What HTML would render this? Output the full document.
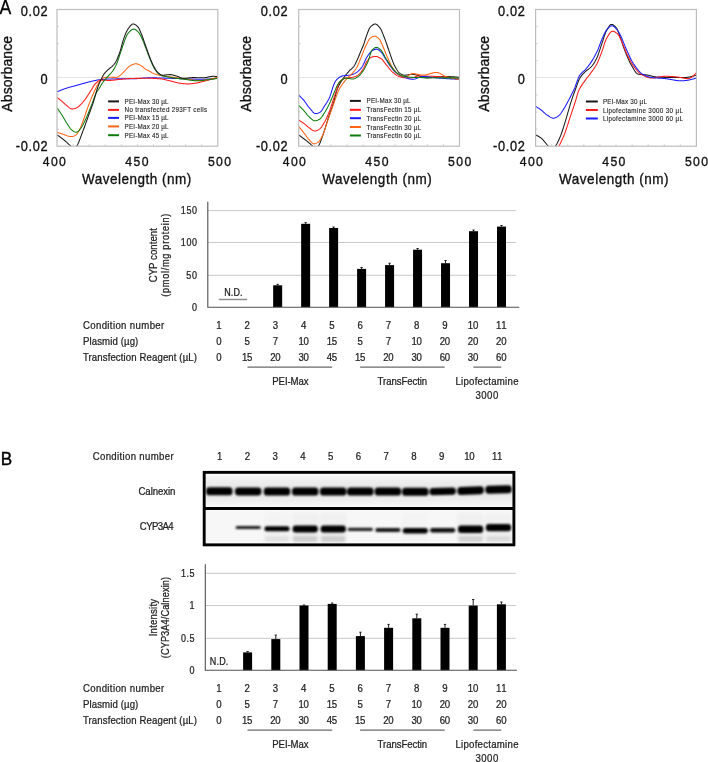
<!DOCTYPE html><html><head><meta charset="utf-8"><style>html,body{margin:0;padding:0;background:#fff;overflow:hidden}svg{display:block}text{font-family:"Liberation Sans",sans-serif}svg{will-change:transform}</style></head><body>
<svg width="708" height="762" viewBox="0 0 708 762">
<defs><filter id="blur1" x="-20%" y="-50%" width="140%" height="200%"><feGaussianBlur stdDeviation="0.9"/></filter><filter id="blur2" x="-20%" y="-100%" width="140%" height="300%"><feGaussianBlur stdDeviation="1.6"/></filter></defs>
<rect width="708" height="762" fill="#fff"/>
<text transform="translate(-0.40,13.50) scale(0.9,1)" font-size="19.6"  textLength="14.00" lengthAdjust="spacing" fill="#000" stroke="#000" stroke-width="0.3">A</text>
<clipPath id="clipA0"><rect x="57.0" y="9.5" width="160.8" height="136.7"/></clipPath>
<line x1="57.0" y1="77.5" x2="217.8" y2="77.5" stroke="#e4e4e4" stroke-width="1"/>
<line x1="73.08" y1="146.2" x2="73.08" y2="144.2" stroke="#c8c8c8" stroke-width="0.8"/>
<line x1="89.16" y1="146.2" x2="89.16" y2="144.2" stroke="#c8c8c8" stroke-width="0.8"/>
<line x1="105.24" y1="146.2" x2="105.24" y2="144.2" stroke="#c8c8c8" stroke-width="0.8"/>
<line x1="121.32" y1="146.2" x2="121.32" y2="144.2" stroke="#c8c8c8" stroke-width="0.8"/>
<line x1="137.40" y1="146.2" x2="137.40" y2="144.2" stroke="#c8c8c8" stroke-width="0.8"/>
<line x1="153.48" y1="146.2" x2="153.48" y2="144.2" stroke="#c8c8c8" stroke-width="0.8"/>
<line x1="169.56" y1="146.2" x2="169.56" y2="144.2" stroke="#c8c8c8" stroke-width="0.8"/>
<line x1="185.64" y1="146.2" x2="185.64" y2="144.2" stroke="#c8c8c8" stroke-width="0.8"/>
<line x1="201.72" y1="146.2" x2="201.72" y2="144.2" stroke="#c8c8c8" stroke-width="0.8"/>
<line x1="57.0" y1="26.59" x2="59.0" y2="26.59" stroke="#c8c8c8" stroke-width="0.8"/>
<line x1="57.0" y1="43.67" x2="59.0" y2="43.67" stroke="#c8c8c8" stroke-width="0.8"/>
<line x1="57.0" y1="60.76" x2="59.0" y2="60.76" stroke="#c8c8c8" stroke-width="0.8"/>
<line x1="57.0" y1="94.94" x2="59.0" y2="94.94" stroke="#c8c8c8" stroke-width="0.8"/>
<line x1="57.0" y1="112.02" x2="59.0" y2="112.02" stroke="#c8c8c8" stroke-width="0.8"/>
<line x1="57.0" y1="129.11" x2="59.0" y2="129.11" stroke="#c8c8c8" stroke-width="0.8"/>
<g clip-path="url(#clipA0)" fill="none" stroke-width="1.05" stroke-linejoin="round">
<path d="M57.10,91.80 L57.60,91.58 L58.10,91.37 L58.60,91.16 L59.10,90.94 L59.60,90.74 L60.10,90.53 L60.60,90.33 L61.10,90.13 L61.60,89.93 L62.10,89.74 L62.60,89.54 L63.10,89.36 L63.60,89.17 L64.10,88.99 L64.60,88.81 L65.10,88.63 L65.60,88.46 L66.10,88.29 L66.60,88.13 L67.10,87.97 L67.60,87.81 L68.10,87.66 L68.60,87.51 L69.10,87.36 L69.60,87.22 L70.10,87.08 L70.60,86.94 L71.10,86.81 L71.60,86.67 L72.10,86.54 L72.60,86.41 L73.10,86.28 L73.60,86.15 L74.10,86.02 L74.60,85.89 L75.10,85.77 L75.60,85.64 L76.10,85.51 L76.60,85.38 L77.10,85.24 L77.60,85.11 L78.10,84.97 L78.60,84.83 L79.10,84.69 L79.60,84.55 L80.10,84.41 L80.60,84.27 L81.10,84.12 L81.60,83.98 L82.10,83.84 L82.60,83.69 L83.10,83.55 L83.60,83.40 L84.10,83.26 L84.60,83.12 L85.10,82.98 L85.60,82.84 L86.10,82.70 L86.60,82.56 L87.10,82.43 L87.60,82.30 L88.10,82.17 L88.60,82.04 L89.10,81.92 L89.60,81.79 L90.10,81.68 L90.60,81.56 L91.10,81.44 L91.60,81.32 L92.10,81.20 L92.60,81.08 L93.10,80.96 L93.60,80.84 L94.10,80.72 L94.60,80.61 L95.10,80.50 L95.60,80.39 L96.10,80.29 L96.60,80.19 L97.10,80.10 L97.60,80.01 L98.10,79.92 L98.60,79.85 L99.10,79.78 L99.60,79.72 L100.10,79.67 L100.60,79.62 L101.10,79.57 L101.60,79.52 L102.10,79.47 L102.60,79.43 L103.10,79.38 L103.60,79.34 L104.10,79.30 L104.60,79.26 L105.10,79.22 L105.60,79.19 L106.10,79.16 L106.60,79.13 L107.10,79.10 L107.60,79.07 L108.10,79.05 L108.60,79.03 L109.10,79.02 L109.60,79.00 L110.10,78.99 L110.60,78.98 L111.10,78.97 L111.60,78.96 L112.10,78.95 L112.60,78.94 L113.10,78.94 L113.60,78.93 L114.10,78.92 L114.60,78.91 L115.10,78.91 L115.60,78.90 L116.10,78.90 L116.60,78.89 L117.10,78.89 L117.60,78.88 L118.10,78.88 L118.60,78.87 L119.10,78.87 L119.60,78.86 L120.10,78.86 L120.60,78.86 L121.10,78.85 L121.60,78.85 L122.10,78.85 L122.60,78.84 L123.10,78.84 L123.60,78.84 L124.10,78.83 L124.60,78.83 L125.10,78.83 L125.60,78.82 L126.10,78.82 L126.60,78.81 L127.10,78.81 L127.60,78.81 L128.10,78.80 L128.60,78.80 L129.10,78.79 L129.60,78.78 L130.10,78.78 L130.60,78.77 L131.10,78.77 L131.60,78.76 L132.10,78.75 L132.60,78.74 L133.10,78.74 L133.60,78.73 L134.10,78.72 L134.60,78.71 L135.10,78.70 L135.60,78.68 L136.10,78.67 L136.60,78.64 L137.10,78.62 L137.60,78.59 L138.10,78.56 L138.60,78.53 L139.10,78.49 L139.60,78.45 L140.10,78.41 L140.60,78.37 L141.10,78.33 L141.60,78.29 L142.10,78.24 L142.60,78.20 L143.10,78.16 L143.60,78.12 L144.10,78.08 L144.60,78.04 L145.10,78.00 L145.60,77.97 L146.10,77.94 L146.60,77.91 L147.10,77.88 L147.60,77.85 L148.10,77.84 L148.60,77.82 L149.10,77.81 L149.60,77.80 L150.10,77.80 L150.60,77.80 L151.10,77.80 L151.60,77.81 L152.10,77.81 L152.60,77.81 L153.10,77.82 L153.60,77.83 L154.10,77.84 L154.60,77.84 L155.10,77.85 L155.60,77.86 L156.10,77.88 L156.60,77.89 L157.10,77.90 L157.60,77.91 L158.10,77.93 L158.60,77.94 L159.10,77.95 L159.60,77.97 L160.10,77.98 L160.60,78.00 L161.10,78.02 L161.60,78.03 L162.10,78.05 L162.60,78.06 L163.10,78.08 L163.60,78.10 L164.10,78.12 L164.60,78.13 L165.10,78.15 L165.60,78.17 L166.10,78.18 L166.60,78.20 L167.10,78.22 L167.60,78.23 L168.10,78.25 L168.60,78.26 L169.10,78.28 L169.60,78.29 L170.10,78.31 L170.60,78.32 L171.10,78.34 L171.60,78.35 L172.10,78.37 L172.60,78.39 L173.10,78.40 L173.60,78.42 L174.10,78.44 L174.60,78.45 L175.10,78.47 L175.60,78.49 L176.10,78.50 L176.60,78.52 L177.10,78.54 L177.60,78.56 L178.10,78.57 L178.60,78.59 L179.10,78.61 L179.60,78.63 L180.10,78.64 L180.60,78.66 L181.10,78.68 L181.60,78.70 L182.10,78.71 L182.60,78.73 L183.10,78.75 L183.60,78.77 L184.10,78.78 L184.60,78.80 L185.10,78.82 L185.60,78.84 L186.10,78.86 L186.60,78.88 L187.10,78.90 L187.60,78.92 L188.10,78.94 L188.60,78.96 L189.10,78.98 L189.60,79.01 L190.10,79.03 L190.60,79.05 L191.10,79.07 L191.60,79.09 L192.10,79.11 L192.60,79.14 L193.10,79.16 L193.60,79.17 L194.10,79.19 L194.60,79.21 L195.10,79.23 L195.60,79.24 L196.10,79.25 L196.60,79.27 L197.10,79.28 L197.60,79.28 L198.10,79.29 L198.60,79.30 L199.10,79.30 L199.60,79.30 L200.10,79.30 L200.60,79.30 L201.10,79.29 L201.60,79.29 L202.10,79.28 L202.60,79.27 L203.10,79.26 L203.60,79.25 L204.10,79.23 L204.60,79.22 L205.10,79.20 L205.60,79.18 L206.10,79.16 L206.60,79.14 L207.10,79.12 L207.60,79.09 L208.10,79.07 L208.60,79.04 L209.10,79.01 L209.60,78.98 L210.10,78.95 L210.60,78.92 L211.10,78.88 L211.60,78.85 L212.10,78.81 L212.60,78.77 L213.10,78.73 L213.60,78.69 L214.10,78.65 L214.60,78.61 L215.10,78.56 L215.60,78.52 L216.10,78.47 L216.60,78.42 L217.10,78.37 L217.60,78.32 L217.80,78.30" stroke="#1a1aff"/>
<path d="M57.10,97.40 L57.60,97.79 L58.10,98.18 L58.60,98.57 L59.10,98.97 L59.60,99.38 L60.10,99.78 L60.60,100.20 L61.10,100.61 L61.60,101.03 L62.10,101.46 L62.60,101.90 L63.10,102.36 L63.60,102.82 L64.10,103.28 L64.60,103.74 L65.10,104.18 L65.60,104.60 L66.10,105.00 L66.60,105.40 L67.10,105.82 L67.60,106.26 L68.10,106.71 L68.60,107.14 L69.10,107.55 L69.60,107.93 L70.10,108.26 L70.60,108.54 L71.10,108.74 L71.60,108.87 L72.10,108.90 L72.60,108.88 L73.10,108.82 L73.60,108.74 L74.10,108.64 L74.60,108.52 L75.10,108.38 L75.60,108.23 L76.10,108.07 L76.60,107.89 L77.10,107.63 L77.60,107.30 L78.10,106.92 L78.60,106.50 L79.10,106.04 L79.60,105.56 L80.10,105.08 L80.60,104.60 L81.10,104.11 L81.60,103.60 L82.10,103.06 L82.60,102.50 L83.10,101.91 L83.60,101.31 L84.10,100.68 L84.60,100.05 L85.10,99.40 L85.60,98.73 L86.10,98.05 L86.60,97.33 L87.10,96.58 L87.60,95.81 L88.10,95.02 L88.60,94.22 L89.10,93.41 L89.60,92.61 L90.10,91.82 L90.60,91.05 L91.10,90.24 L91.60,89.40 L92.10,88.55 L92.60,87.70 L93.10,86.86 L93.60,86.07 L94.10,85.33 L94.60,84.67 L95.10,84.10 L95.60,83.60 L96.10,83.10 L96.60,82.60 L97.10,82.12 L97.60,81.66 L98.10,81.25 L98.60,80.89 L99.10,80.59 L99.60,80.37 L100.10,80.23 L100.60,80.20 L101.10,80.20 L101.60,80.21 L102.10,80.22 L102.60,80.23 L103.10,80.24 L103.60,80.25 L104.10,80.27 L104.60,80.28 L105.10,80.30 L105.60,80.32 L106.10,80.33 L106.60,80.35 L107.10,80.36 L107.60,80.37 L108.10,80.38 L108.60,80.39 L109.10,80.40 L109.60,80.40 L110.10,80.40 L110.60,80.38 L111.10,80.36 L111.60,80.33 L112.10,80.29 L112.60,80.24 L113.10,80.18 L113.60,80.13 L114.10,80.06 L114.60,80.00 L115.10,79.93 L115.60,79.86 L116.10,79.79 L116.60,79.73 L117.10,79.66 L117.60,79.60 L118.10,79.54 L118.60,79.48 L119.10,79.43 L119.60,79.39 L120.10,79.35 L120.60,79.31 L121.10,79.27 L121.60,79.23 L122.10,79.18 L122.60,79.14 L123.10,79.10 L123.60,79.06 L124.10,79.02 L124.60,78.98 L125.10,78.93 L125.60,78.89 L126.10,78.85 L126.60,78.82 L127.10,78.78 L127.60,78.74 L128.10,78.71 L128.60,78.67 L129.10,78.64 L129.60,78.61 L130.10,78.58 L130.60,78.55 L131.10,78.53 L131.60,78.50 L132.10,78.48 L132.60,78.46 L133.10,78.44 L133.60,78.43 L134.10,78.42 L134.60,78.41 L135.10,78.40 L135.60,78.39 L136.10,78.39 L136.60,78.38 L137.10,78.38 L137.60,78.37 L138.10,78.37 L138.60,78.36 L139.10,78.36 L139.60,78.35 L140.10,78.35 L140.60,78.34 L141.10,78.34 L141.60,78.33 L142.10,78.33 L142.60,78.33 L143.10,78.32 L143.60,78.32 L144.10,78.32 L144.60,78.31 L145.10,78.31 L145.60,78.31 L146.10,78.31 L146.60,78.31 L147.10,78.30 L147.60,78.30 L148.10,78.30 L148.60,78.30 L149.10,78.30 L149.60,78.30 L150.10,78.30 L150.60,78.30 L151.10,78.31 L151.60,78.32 L152.10,78.33 L152.60,78.34 L153.10,78.36 L153.60,78.38 L154.10,78.41 L154.60,78.43 L155.10,78.46 L155.60,78.49 L156.10,78.52 L156.60,78.55 L157.10,78.59 L157.60,78.62 L158.10,78.66 L158.60,78.70 L159.10,78.74 L159.60,78.78 L160.10,78.82 L160.60,78.87 L161.10,78.93 L161.60,79.00 L162.10,79.08 L162.60,79.16 L163.10,79.26 L163.60,79.36 L164.10,79.46 L164.60,79.57 L165.10,79.68 L165.60,79.80 L166.10,79.92 L166.60,80.04 L167.10,80.16 L167.60,80.29 L168.10,80.41 L168.60,80.53 L169.10,80.64 L169.60,80.76 L170.10,80.87 L170.60,80.99 L171.10,81.11 L171.60,81.24 L172.10,81.37 L172.60,81.51 L173.10,81.65 L173.60,81.79 L174.10,81.93 L174.60,82.07 L175.10,82.21 L175.60,82.35 L176.10,82.48 L176.60,82.60 L177.10,82.72 L177.60,82.83 L178.10,82.94 L178.60,83.03 L179.10,83.11 L179.60,83.19 L180.10,83.25 L180.60,83.32 L181.10,83.38 L181.60,83.44 L182.10,83.50 L182.60,83.56 L183.10,83.62 L183.60,83.67 L184.10,83.72 L184.60,83.76 L185.10,83.80 L185.60,83.84 L186.10,83.86 L186.60,83.88 L187.10,83.90 L187.60,83.90 L188.10,83.90 L188.60,83.88 L189.10,83.86 L189.60,83.84 L190.10,83.80 L190.60,83.76 L191.10,83.72 L191.60,83.67 L192.10,83.62 L192.60,83.56 L193.10,83.50 L193.60,83.44 L194.10,83.38 L194.60,83.32 L195.10,83.25 L195.60,83.19 L196.10,83.12 L196.60,83.03 L197.10,82.94 L197.60,82.84 L198.10,82.74 L198.60,82.62 L199.10,82.50 L199.60,82.37 L200.10,82.24 L200.60,82.11 L201.10,81.97 L201.60,81.83 L202.10,81.69 L202.60,81.55 L203.10,81.41 L203.60,81.28 L204.10,81.14 L204.60,81.01 L205.10,80.88 L205.60,80.75 L206.10,80.62 L206.60,80.50 L207.10,80.37 L207.60,80.25 L208.10,80.12 L208.60,79.99 L209.10,79.87 L209.60,79.74 L210.10,79.61 L210.60,79.48 L211.10,79.36 L211.60,79.23 L212.10,79.10 L212.60,78.97 L213.10,78.84 L213.60,78.71 L214.10,78.58 L214.60,78.45 L215.10,78.31 L215.60,78.18 L216.10,78.05 L216.60,77.92 L217.10,77.79 L217.60,77.65 L217.80,77.60" stroke="#ff1a1a"/>
<path d="M57.10,132.30 L57.60,132.47 L58.10,132.64 L58.60,132.82 L59.10,132.98 L59.60,133.15 L60.10,133.32 L60.60,133.48 L61.10,133.64 L61.60,133.80 L62.10,133.96 L62.60,134.12 L63.10,134.28 L63.60,134.43 L64.10,134.59 L64.60,134.77 L65.10,134.95 L65.60,135.14 L66.10,135.33 L66.60,135.52 L67.10,135.71 L67.60,135.88 L68.10,136.05 L68.60,136.19 L69.10,136.33 L69.60,136.44 L70.10,136.52 L70.60,136.58 L71.10,136.60 L71.60,136.59 L72.10,136.53 L72.60,136.43 L73.10,136.30 L73.60,136.13 L74.10,135.94 L74.60,135.73 L75.10,135.50 L75.60,135.25 L76.10,134.89 L76.60,134.39 L77.10,133.77 L77.60,133.07 L78.10,132.30 L78.60,131.49 L79.10,130.66 L79.60,129.70 L80.10,128.61 L80.60,127.42 L81.10,126.15 L81.60,124.83 L82.10,123.48 L82.60,122.13 L83.10,120.80 L83.60,119.46 L84.10,118.07 L84.60,116.64 L85.10,115.19 L85.60,113.71 L86.10,112.24 L86.60,110.77 L87.10,109.33 L87.60,107.92 L88.10,106.57 L88.60,105.25 L89.10,103.94 L89.60,102.65 L90.10,101.37 L90.60,100.12 L91.10,98.88 L91.60,97.66 L92.10,96.47 L92.60,95.30 L93.10,94.17 L93.60,93.06 L94.10,91.95 L94.60,90.84 L95.10,89.74 L95.60,88.66 L96.10,87.61 L96.60,86.60 L97.10,85.64 L97.60,84.74 L98.10,83.91 L98.60,83.15 L99.10,82.41 L99.60,81.67 L100.10,80.94 L100.60,80.25 L101.10,79.61 L101.60,79.05 L102.10,78.58 L102.60,78.22 L103.10,78.00 L103.60,77.86 L104.10,77.72 L104.60,77.60 L105.10,77.50 L105.60,77.42 L106.10,77.35 L106.60,77.31 L107.10,77.30 L107.60,77.30 L108.10,77.30 L108.60,77.31 L109.10,77.31 L109.60,77.32 L110.10,77.33 L110.60,77.33 L111.10,77.34 L111.60,77.35 L112.10,77.36 L112.60,77.37 L113.10,77.37 L113.60,77.38 L114.10,77.39 L114.60,77.39 L115.10,77.40 L115.60,77.40 L116.10,77.40 L116.60,77.37 L117.10,77.24 L117.60,77.04 L118.10,76.77 L118.60,76.45 L119.10,76.09 L119.60,75.71 L120.10,75.33 L120.60,74.95 L121.10,74.57 L121.60,74.14 L122.10,73.66 L122.60,73.15 L123.10,72.61 L123.60,72.07 L124.10,71.53 L124.60,71.00 L125.10,70.50 L125.60,70.01 L126.10,69.49 L126.60,68.96 L127.10,68.44 L127.60,67.92 L128.10,67.42 L128.60,66.96 L129.10,66.53 L129.60,66.16 L130.10,65.85 L130.60,65.59 L131.10,65.33 L131.60,65.08 L132.10,64.84 L132.60,64.61 L133.10,64.40 L133.60,64.21 L134.10,64.05 L134.60,63.93 L135.10,63.85 L135.60,63.80 L136.10,63.81 L136.60,63.86 L137.10,63.96 L137.60,64.10 L138.10,64.27 L138.60,64.46 L139.10,64.67 L139.60,64.89 L140.10,65.12 L140.60,65.35 L141.10,65.62 L141.60,65.96 L142.10,66.34 L142.60,66.76 L143.10,67.20 L143.60,67.64 L144.10,68.08 L144.60,68.49 L145.10,68.87 L145.60,69.20 L146.10,69.49 L146.60,69.75 L147.10,69.99 L147.60,70.22 L148.10,70.45 L148.60,70.68 L149.10,70.92 L149.60,71.18 L150.10,71.46 L150.60,71.80 L151.10,72.16 L151.60,72.53 L152.10,72.85 L152.60,73.09 L153.10,73.30 L153.60,73.50 L154.10,73.70 L154.60,73.88 L155.10,74.05 L155.60,74.21 L156.10,74.36 L156.60,74.51 L157.10,74.64 L157.60,74.78 L158.10,74.90 L158.60,75.02 L159.10,75.13 L159.60,75.24 L160.10,75.34 L160.60,75.44 L161.10,75.53 L161.60,75.62 L162.10,75.71 L162.60,75.79 L163.10,75.87 L163.60,75.95 L164.10,76.02 L164.60,76.09 L165.10,76.16 L165.60,76.23 L166.10,76.30 L166.60,76.37 L167.10,76.43 L167.60,76.50 L168.10,76.57 L168.60,76.63 L169.10,76.70 L169.60,76.77 L170.10,76.84 L170.60,76.91 L171.10,76.99 L171.60,77.06 L172.10,77.13 L172.60,77.20 L173.10,77.27 L173.60,77.34 L174.10,77.41 L174.60,77.47 L175.10,77.54 L175.60,77.61 L176.10,77.68 L176.60,77.75 L177.10,77.82 L177.60,77.88 L178.10,77.95 L178.60,78.02 L179.10,78.08 L179.60,78.15 L180.10,78.22 L180.60,78.28 L181.10,78.35 L181.60,78.41 L182.10,78.48 L182.60,78.54 L183.10,78.61 L183.60,78.67 L184.10,78.74 L184.60,78.80 L185.10,78.87 L185.60,78.93 L186.10,79.01 L186.60,79.08 L187.10,79.16 L187.60,79.23 L188.10,79.31 L188.60,79.39 L189.10,79.47 L189.60,79.55 L190.10,79.63 L190.60,79.71 L191.10,79.79 L191.60,79.87 L192.10,79.95 L192.60,80.02 L193.10,80.09 L193.60,80.16 L194.10,80.22 L194.60,80.28 L195.10,80.34 L195.60,80.39 L196.10,80.44 L196.60,80.48 L197.10,80.52 L197.60,80.55 L198.10,80.57 L198.60,80.59 L199.10,80.60 L199.60,80.60 L200.10,80.59 L200.60,80.57 L201.10,80.54 L201.60,80.51 L202.10,80.46 L202.60,80.41 L203.10,80.35 L203.60,80.28 L204.10,80.21 L204.60,80.13 L205.10,80.05 L205.60,79.96 L206.10,79.87 L206.60,79.78 L207.10,79.69 L207.60,79.60 L208.10,79.51 L208.60,79.42 L209.10,79.33 L209.60,79.25 L210.10,79.16 L210.60,79.06 L211.10,78.96 L211.60,78.86 L212.10,78.75 L212.60,78.64 L213.10,78.53 L213.60,78.41 L214.10,78.29 L214.60,78.16 L215.10,78.03 L215.60,77.90 L216.10,77.77 L216.60,77.63 L217.10,77.50 L217.60,77.36 L217.80,77.30" stroke="#ff6414"/>
<path d="M57.10,108.00 L57.60,108.67 L58.10,109.36 L58.60,110.05 L59.10,110.76 L59.60,111.49 L60.10,112.22 L60.60,112.97 L61.10,113.72 L61.60,114.49 L62.10,115.27 L62.60,116.10 L63.10,116.95 L63.60,117.82 L64.10,118.70 L64.60,119.58 L65.10,120.46 L65.60,121.32 L66.10,122.15 L66.60,122.94 L67.10,123.70 L67.60,124.47 L68.10,125.24 L68.60,126.02 L69.10,126.78 L69.60,127.52 L70.10,128.21 L70.60,128.84 L71.10,129.40 L71.60,129.88 L72.10,130.27 L72.60,130.62 L73.10,130.97 L73.60,131.30 L74.10,131.60 L74.60,131.86 L75.10,132.07 L75.60,132.22 L76.10,132.29 L76.60,132.27 L77.10,132.10 L77.60,131.79 L78.10,131.38 L78.60,130.88 L79.10,130.32 L79.60,129.72 L80.10,129.10 L80.60,128.50 L81.10,127.86 L81.60,127.14 L82.10,126.34 L82.60,125.47 L83.10,124.54 L83.60,123.56 L84.10,122.54 L84.60,121.49 L85.10,120.42 L85.60,119.34 L86.10,118.26 L86.60,117.18 L87.10,116.08 L87.60,114.92 L88.10,113.72 L88.60,112.48 L89.10,111.23 L89.60,109.95 L90.10,108.67 L90.60,107.38 L91.10,106.11 L91.60,104.85 L92.10,103.58 L92.60,102.25 L93.10,100.87 L93.60,99.48 L94.10,98.09 L94.60,96.74 L95.10,95.44 L95.60,94.23 L96.10,93.12 L96.60,92.15 L97.10,91.33 L97.60,90.67 L98.10,90.04 L98.60,89.35 L99.10,88.58 L99.60,87.76 L100.10,86.91 L100.60,86.04 L101.10,85.17 L101.60,84.31 L102.10,83.49 L102.60,82.71 L103.10,82.00 L103.60,81.34 L104.10,80.72 L104.60,80.13 L105.10,79.56 L105.60,79.01 L106.10,78.46 L106.60,77.92 L107.10,77.37 L107.60,76.81 L108.10,76.25 L108.60,75.71 L109.10,75.18 L109.60,74.65 L110.10,74.12 L110.60,73.57 L111.10,73.01 L111.60,72.41 L112.10,71.77 L112.60,71.09 L113.10,70.37 L113.60,69.61 L114.10,68.82 L114.60,67.97 L115.10,67.08 L115.60,66.12 L116.10,65.11 L116.60,64.00 L117.10,62.75 L117.60,61.38 L118.10,59.93 L118.60,58.42 L119.10,56.90 L119.60,55.38 L120.10,53.91 L120.60,52.41 L121.10,50.87 L121.60,49.31 L122.10,47.76 L122.60,46.26 L123.10,44.82 L123.60,43.46 L124.10,42.09 L124.60,40.69 L125.10,39.32 L125.60,37.99 L126.10,36.75 L126.60,35.64 L127.10,34.69 L127.60,33.93 L128.10,33.32 L128.60,32.73 L129.10,32.15 L129.60,31.61 L130.10,31.10 L130.60,30.63 L131.10,30.21 L131.60,29.85 L132.10,29.55 L132.60,29.32 L133.10,29.17 L133.60,29.10 L134.10,29.13 L134.60,29.26 L135.10,29.48 L135.60,29.77 L136.10,30.12 L136.60,30.52 L137.10,30.96 L137.60,31.43 L138.10,31.91 L138.60,32.42 L139.10,33.06 L139.60,33.82 L140.10,34.69 L140.60,35.63 L141.10,36.63 L141.60,37.66 L142.10,38.69 L142.60,39.76 L143.10,40.93 L143.60,42.18 L144.10,43.47 L144.60,44.79 L145.10,46.11 L145.60,47.40 L146.10,48.68 L146.60,49.99 L147.10,51.31 L147.60,52.63 L148.10,53.95 L148.60,55.25 L149.10,56.53 L149.60,57.77 L150.10,58.98 L150.60,60.21 L151.10,61.44 L151.60,62.67 L152.10,63.86 L152.60,65.01 L153.10,66.07 L153.60,67.04 L154.10,67.90 L154.60,68.69 L155.10,69.46 L155.60,70.22 L156.10,70.95 L156.60,71.65 L157.10,72.30 L157.60,72.90 L158.10,73.45 L158.60,73.93 L159.10,74.33 L159.60,74.65 L160.10,74.89 L160.60,75.09 L161.10,75.29 L161.60,75.47 L162.10,75.63 L162.60,75.79 L163.10,75.94 L163.60,76.07 L164.10,76.20 L164.60,76.32 L165.10,76.43 L165.60,76.53 L166.10,76.64 L166.60,76.73 L167.10,76.82 L167.60,76.91 L168.10,77.00 L168.60,77.09 L169.10,77.18 L169.60,77.26 L170.10,77.35 L170.60,77.44 L171.10,77.52 L171.60,77.61 L172.10,77.69 L172.60,77.76 L173.10,77.84 L173.60,77.91 L174.10,77.99 L174.60,78.06 L175.10,78.13 L175.60,78.19 L176.10,78.26 L176.60,78.32 L177.10,78.39 L177.60,78.45 L178.10,78.51 L178.60,78.58 L179.10,78.64 L179.60,78.70 L180.10,78.76 L180.60,78.82 L181.10,78.88 L181.60,78.94 L182.10,79.00 L182.60,79.06 L183.10,79.12 L183.60,79.18 L184.10,79.24 L184.60,79.30 L185.10,79.36 L185.60,79.43 L186.10,79.50 L186.60,79.58 L187.10,79.65 L187.60,79.73 L188.10,79.80 L188.60,79.88 L189.10,79.96 L189.60,80.04 L190.10,80.11 L190.60,80.19 L191.10,80.26 L191.60,80.33 L192.10,80.40 L192.60,80.46 L193.10,80.52 L193.60,80.57 L194.10,80.62 L194.60,80.67 L195.10,80.71 L195.60,80.74 L196.10,80.77 L196.60,80.79 L197.10,80.80 L197.60,80.80 L198.10,80.79 L198.60,80.78 L199.10,80.76 L199.60,80.73 L200.10,80.69 L200.60,80.65 L201.10,80.60 L201.60,80.55 L202.10,80.49 L202.60,80.43 L203.10,80.37 L203.60,80.30 L204.10,80.23 L204.60,80.17 L205.10,80.10 L205.60,80.03 L206.10,79.96 L206.60,79.90 L207.10,79.84 L207.60,79.78 L208.10,79.72 L208.60,79.65 L209.10,79.59 L209.60,79.53 L210.10,79.46 L210.60,79.39 L211.10,79.32 L211.60,79.25 L212.10,79.18 L212.60,79.11 L213.10,79.04 L213.60,78.96 L214.10,78.89 L214.60,78.81 L215.10,78.74 L215.60,78.66 L216.10,78.58 L216.60,78.50 L217.10,78.42 L217.60,78.33 L217.80,78.30" stroke="#0c7a0c"/>
<path d="M57.10,134.90 L57.60,135.23 L58.10,135.57 L58.60,135.91 L59.10,136.26 L59.60,136.62 L60.10,136.98 L60.60,137.35 L61.10,137.72 L61.60,138.10 L62.10,138.49 L62.60,138.88 L63.10,139.28 L63.60,139.68 L64.10,140.09 L64.60,140.50 L65.10,140.92 L65.60,141.35 L66.10,141.78 L66.60,142.21 L67.10,142.66 L67.60,143.11 L68.10,143.57 L68.60,144.04 L69.10,144.51 L69.60,145.00 L70.10,145.49 L70.60,146.00 L71.10,146.55 L71.60,147.24 L72.10,148.00 L72.60,148.70 L73.10,149.24 L73.60,149.49 L74.10,149.41 L74.60,149.06 L75.10,148.52 L75.60,147.85 L76.10,147.10 L76.60,146.35 L77.10,145.57 L77.60,144.65 L78.10,143.62 L78.60,142.48 L79.10,141.25 L79.60,139.96 L80.10,138.63 L80.60,137.27 L81.10,135.90 L81.60,134.54 L82.10,133.22 L82.60,131.93 L83.10,130.62 L83.60,129.29 L84.10,127.95 L84.60,126.59 L85.10,125.21 L85.60,123.83 L86.10,122.43 L86.60,121.03 L87.10,119.63 L87.60,118.22 L88.10,116.81 L88.60,115.40 L89.10,114.00 L89.60,112.61 L90.10,111.24 L90.60,109.87 L91.10,108.50 L91.60,107.12 L92.10,105.72 L92.60,104.30 L93.10,102.85 L93.60,101.35 L94.10,99.81 L94.60,98.18 L95.10,96.41 L95.60,94.56 L96.10,92.70 L96.60,90.90 L97.10,89.21 L97.60,87.72 L98.10,86.35 L98.60,85.05 L99.10,83.83 L99.60,82.67 L100.10,81.56 L100.60,80.49 L101.10,79.44 L101.60,78.40 L102.10,77.39 L102.60,76.42 L103.10,75.51 L103.60,74.67 L104.10,73.91 L104.60,73.24 L105.10,72.64 L105.60,72.08 L106.10,71.55 L106.60,71.06 L107.10,70.59 L107.60,70.14 L108.10,69.70 L108.60,69.26 L109.10,68.81 L109.60,68.39 L110.10,68.00 L110.60,67.63 L111.10,67.25 L111.60,66.87 L112.10,66.46 L112.60,66.00 L113.10,65.49 L113.60,64.92 L114.10,64.29 L114.60,63.60 L115.10,62.85 L115.60,62.05 L116.10,61.18 L116.60,60.24 L117.10,59.18 L117.60,58.02 L118.10,56.77 L118.60,55.46 L119.10,54.08 L119.60,52.66 L120.10,51.20 L120.60,49.59 L121.10,47.81 L121.60,45.94 L122.10,44.07 L122.60,42.26 L123.10,40.60 L123.60,39.13 L124.10,37.72 L124.60,36.34 L125.10,34.99 L125.60,33.72 L126.10,32.53 L126.60,31.44 L127.10,30.47 L127.60,29.65 L128.10,28.92 L128.60,28.21 L129.10,27.50 L129.60,26.82 L130.10,26.18 L130.60,25.60 L131.10,25.08 L131.60,24.65 L132.10,24.32 L132.60,24.10 L133.10,24.00 L133.60,24.03 L134.10,24.14 L134.60,24.33 L135.10,24.59 L135.60,24.91 L136.10,25.28 L136.60,25.69 L137.10,26.14 L137.60,26.61 L138.10,27.12 L138.60,27.82 L139.10,28.72 L139.60,29.77 L140.10,30.93 L140.60,32.13 L141.10,33.33 L141.60,34.52 L142.10,35.78 L142.60,37.12 L143.10,38.51 L143.60,39.94 L144.10,41.39 L144.60,42.85 L145.10,44.29 L145.60,45.70 L146.10,47.11 L146.60,48.54 L147.10,49.99 L147.60,51.44 L148.10,52.87 L148.60,54.27 L149.10,55.64 L149.60,56.95 L150.10,58.19 L150.60,59.42 L151.10,60.64 L151.60,61.82 L152.10,62.97 L152.60,64.08 L153.10,65.12 L153.60,66.10 L154.10,67.00 L154.60,67.86 L155.10,68.70 L155.60,69.52 L156.10,70.29 L156.60,71.02 L157.10,71.68 L157.60,72.26 L158.10,72.76 L158.60,73.15 L159.10,73.52 L159.60,73.89 L160.10,74.23 L160.60,74.53 L161.10,74.79 L161.60,75.00 L162.10,75.14 L162.60,75.20 L163.10,75.19 L163.60,75.17 L164.10,75.14 L164.60,75.09 L165.10,75.04 L165.60,74.98 L166.10,74.92 L166.60,74.86 L167.10,74.79 L167.60,74.74 L168.10,74.69 L168.60,74.65 L169.10,74.62 L169.60,74.60 L170.10,74.61 L170.60,74.64 L171.10,74.69 L171.60,74.77 L172.10,74.87 L172.60,74.98 L173.10,75.11 L173.60,75.24 L174.10,75.37 L174.60,75.51 L175.10,75.65 L175.60,75.78 L176.10,75.91 L176.60,76.06 L177.10,76.24 L177.60,76.43 L178.10,76.64 L178.60,76.85 L179.10,77.06 L179.60,77.27 L180.10,77.47 L180.60,77.67 L181.10,77.84 L181.60,77.99 L182.10,78.12 L182.60,78.22 L183.10,78.28 L183.60,78.30 L184.10,78.29 L184.60,78.28 L185.10,78.26 L185.60,78.23 L186.10,78.19 L186.60,78.15 L187.10,78.10 L187.60,78.05 L188.10,78.00 L188.60,77.94 L189.10,77.89 L189.60,77.84 L190.10,77.79 L190.60,77.75 L191.10,77.70 L191.60,77.67 L192.10,77.64 L192.60,77.62 L193.10,77.60 L193.60,77.60 L194.10,77.60 L194.60,77.61 L195.10,77.61 L195.60,77.62 L196.10,77.63 L196.60,77.65 L197.10,77.66 L197.60,77.67 L198.10,77.69 L198.60,77.70 L199.10,77.72 L199.60,77.73 L200.10,77.75 L200.60,77.76 L201.10,77.77 L201.60,77.78 L202.10,77.79 L202.60,77.80 L203.10,77.80 L203.60,77.80 L204.10,77.78 L204.60,77.74 L205.10,77.68 L205.60,77.61 L206.10,77.53 L206.60,77.43 L207.10,77.33 L207.60,77.22 L208.10,77.11 L208.60,76.99 L209.10,76.88 L209.60,76.77 L210.10,76.67 L210.60,76.57 L211.10,76.49 L211.60,76.42 L212.10,76.36 L212.60,76.32 L213.10,76.30 L213.60,76.30 L214.10,76.32 L214.60,76.35 L215.10,76.39 L215.60,76.45 L216.10,76.51 L216.60,76.59 L217.10,76.67 L217.60,76.76 L217.80,76.80" stroke="#1a1a1a"/>
</g>
<rect x="57.0" y="9.5" width="160.80" height="136.70" fill="none" stroke="#bdbdbd" stroke-width="1.2"/>
<line x1="108.1" y1="101.4" x2="119.0" y2="101.4" stroke="#1a1a1a" stroke-width="2.0"/>
<text transform="translate(124.60,103.90) scale(0.9,1)" font-size="7"  textLength="48.89" lengthAdjust="spacing" fill="#222" stroke="#222" stroke-width="0.12">PEI-Max 30 µL</text>
<line x1="108.1" y1="109.9" x2="119.0" y2="109.9" stroke="#ff1a1a" stroke-width="2.0"/>
<text transform="translate(124.60,112.40) scale(0.9,1)" font-size="7"  textLength="91.67" lengthAdjust="spacing" fill="#222" stroke="#222" stroke-width="0.12">No transfected 293FT cells</text>
<line x1="108.1" y1="117.9" x2="119.0" y2="117.9" stroke="#1a1aff" stroke-width="2.0"/>
<text transform="translate(124.60,120.40) scale(0.9,1)" font-size="7"  textLength="48.89" lengthAdjust="spacing" fill="#222" stroke="#222" stroke-width="0.12">PEI-Max 15 µL</text>
<line x1="108.1" y1="126.4" x2="119.0" y2="126.4" stroke="#ff6414" stroke-width="2.0"/>
<text transform="translate(124.60,128.90) scale(0.9,1)" font-size="7"  textLength="48.89" lengthAdjust="spacing" fill="#222" stroke="#222" stroke-width="0.12">PEI-Max 20 µL</text>
<line x1="108.1" y1="135.2" x2="119.0" y2="135.2" stroke="#0c7a0c" stroke-width="2.0"/>
<text transform="translate(124.60,137.70) scale(0.9,1)" font-size="7"  textLength="48.89" lengthAdjust="spacing" fill="#222" stroke="#222" stroke-width="0.12">PEI-Max 45 µL</text>
<text transform="translate(47.50,15.80) scale(0.9,1)" font-size="14.2" text-anchor="end" textLength="29.78" lengthAdjust="spacing" fill="#111" stroke="#111" stroke-width="0.35">0.02</text>
<text transform="translate(47.50,83.60) scale(0.9,1)" font-size="14.2" text-anchor="end" textLength="8.11" lengthAdjust="spacing" fill="#111" stroke="#111" stroke-width="0.35">0</text>
<text transform="translate(47.50,151.40) scale(0.9,1)" font-size="14.2" text-anchor="end" textLength="35.22" lengthAdjust="spacing" fill="#111" stroke="#111" stroke-width="0.35">-0.02</text>
<text transform="translate(54.30,166.00) scale(0.9,1)" font-size="13.6" text-anchor="middle" textLength="25.78" lengthAdjust="spacing" fill="#111" stroke="#111" stroke-width="0.35">400</text>
<text transform="translate(136.90,166.00) scale(0.9,1)" font-size="13.6" text-anchor="middle" textLength="25.78" lengthAdjust="spacing" fill="#111" stroke="#111" stroke-width="0.35">450</text>
<text transform="translate(219.50,166.00) scale(0.9,1)" font-size="13.6" text-anchor="middle" textLength="25.78" lengthAdjust="spacing" fill="#111" stroke="#111" stroke-width="0.35">500</text>
<text transform="translate(136.60,184.00) scale(0.9,1)" font-size="15" text-anchor="middle" textLength="121.56" lengthAdjust="spacing" fill="#111" stroke="#111" stroke-width="0.35">Wavelength (nm)</text>
<text transform="translate(11.90,73.80) rotate(-90) scale(0.9,1)" font-size="15.5" text-anchor="middle" textLength="84.22" lengthAdjust="spacing" fill="#111" stroke="#111" stroke-width="0.35">Absorbance</text>
<clipPath id="clipA1"><rect x="298.7" y="9.5" width="160.8" height="136.7"/></clipPath>
<line x1="298.7" y1="77.5" x2="459.5" y2="77.5" stroke="#e4e4e4" stroke-width="1"/>
<line x1="314.78" y1="146.2" x2="314.78" y2="144.2" stroke="#c8c8c8" stroke-width="0.8"/>
<line x1="330.86" y1="146.2" x2="330.86" y2="144.2" stroke="#c8c8c8" stroke-width="0.8"/>
<line x1="346.94" y1="146.2" x2="346.94" y2="144.2" stroke="#c8c8c8" stroke-width="0.8"/>
<line x1="363.02" y1="146.2" x2="363.02" y2="144.2" stroke="#c8c8c8" stroke-width="0.8"/>
<line x1="379.10" y1="146.2" x2="379.10" y2="144.2" stroke="#c8c8c8" stroke-width="0.8"/>
<line x1="395.18" y1="146.2" x2="395.18" y2="144.2" stroke="#c8c8c8" stroke-width="0.8"/>
<line x1="411.26" y1="146.2" x2="411.26" y2="144.2" stroke="#c8c8c8" stroke-width="0.8"/>
<line x1="427.34" y1="146.2" x2="427.34" y2="144.2" stroke="#c8c8c8" stroke-width="0.8"/>
<line x1="443.42" y1="146.2" x2="443.42" y2="144.2" stroke="#c8c8c8" stroke-width="0.8"/>
<line x1="298.7" y1="26.59" x2="300.7" y2="26.59" stroke="#c8c8c8" stroke-width="0.8"/>
<line x1="298.7" y1="43.67" x2="300.7" y2="43.67" stroke="#c8c8c8" stroke-width="0.8"/>
<line x1="298.7" y1="60.76" x2="300.7" y2="60.76" stroke="#c8c8c8" stroke-width="0.8"/>
<line x1="298.7" y1="94.94" x2="300.7" y2="94.94" stroke="#c8c8c8" stroke-width="0.8"/>
<line x1="298.7" y1="112.02" x2="300.7" y2="112.02" stroke="#c8c8c8" stroke-width="0.8"/>
<line x1="298.7" y1="129.11" x2="300.7" y2="129.11" stroke="#c8c8c8" stroke-width="0.8"/>
<g clip-path="url(#clipA1)" fill="none" stroke-width="1.05" stroke-linejoin="round">
<path d="M298.50,134.90 L299.00,135.24 L299.50,135.58 L300.00,135.93 L300.50,136.28 L301.00,136.63 L301.50,136.99 L302.00,137.35 L302.50,137.72 L303.00,138.09 L303.50,138.47 L304.00,138.85 L304.50,139.24 L305.00,139.63 L305.50,140.02 L306.00,140.41 L306.50,140.81 L307.00,141.21 L307.50,141.62 L308.00,142.02 L308.50,142.44 L309.00,142.86 L309.50,143.28 L310.00,143.71 L310.50,144.14 L311.00,144.58 L311.50,145.02 L312.00,145.47 L312.50,145.92 L313.00,146.40 L313.50,147.00 L314.00,147.66 L314.50,148.29 L315.00,148.76 L315.50,148.99 L316.00,148.90 L316.50,148.55 L317.00,148.01 L317.50,147.35 L318.00,146.63 L318.50,145.91 L319.00,145.05 L319.50,144.05 L320.00,142.92 L320.50,141.69 L321.00,140.38 L321.50,139.00 L322.00,137.58 L322.50,136.15 L323.00,134.72 L323.50,133.32 L324.00,131.87 L324.50,130.35 L325.00,128.78 L325.50,127.16 L326.00,125.51 L326.50,123.85 L327.00,122.20 L327.50,120.56 L328.00,118.96 L328.50,117.40 L329.00,115.90 L329.50,114.44 L330.00,113.01 L330.50,111.60 L331.00,110.19 L331.50,108.78 L332.00,107.34 L332.50,105.86 L333.00,104.34 L333.50,102.75 L334.00,101.06 L334.50,99.17 L335.00,97.15 L335.50,95.12 L336.00,93.17 L336.50,91.39 L337.00,89.90 L337.50,88.64 L338.00,87.47 L338.50,86.39 L339.00,85.39 L339.50,84.44 L340.00,83.55 L340.50,82.68 L341.00,81.83 L341.50,81.01 L342.00,80.23 L342.50,79.48 L343.00,78.76 L343.50,78.05 L344.00,77.37 L344.50,76.70 L345.00,76.05 L345.50,75.40 L346.00,74.76 L346.50,74.14 L347.00,73.53 L347.50,72.94 L348.00,72.36 L348.50,71.79 L349.00,71.24 L349.50,70.69 L350.00,70.19 L350.50,69.72 L351.00,69.27 L351.50,68.83 L352.00,68.38 L352.50,67.91 L353.00,67.40 L353.50,66.84 L354.00,66.20 L354.50,65.45 L355.00,64.57 L355.50,63.59 L356.00,62.54 L356.50,61.45 L357.00,60.35 L357.50,59.26 L358.00,58.13 L358.50,56.94 L359.00,55.72 L359.50,54.49 L360.00,53.26 L360.50,52.04 L361.00,50.86 L361.50,49.71 L362.00,48.57 L362.50,47.42 L363.00,46.22 L363.50,44.97 L364.00,43.62 L364.50,42.09 L365.00,40.41 L365.50,38.73 L366.00,37.15 L366.50,35.76 L367.00,34.40 L367.50,33.04 L368.00,31.72 L368.50,30.47 L369.00,29.33 L369.50,28.33 L370.00,27.51 L370.50,26.90 L371.00,26.42 L371.50,25.96 L372.00,25.52 L372.50,25.13 L373.00,24.78 L373.50,24.48 L374.00,24.25 L374.50,24.09 L375.00,24.01 L375.50,24.02 L376.00,24.16 L376.50,24.40 L377.00,24.74 L377.50,25.16 L378.00,25.64 L378.50,26.17 L379.00,26.74 L379.50,27.32 L380.00,27.92 L380.50,28.65 L381.00,29.54 L381.50,30.57 L382.00,31.70 L382.50,32.91 L383.00,34.16 L383.50,35.44 L384.00,36.70 L384.50,37.95 L385.00,39.27 L385.50,40.64 L386.00,42.07 L386.50,43.53 L387.00,45.01 L387.50,46.49 L388.00,47.98 L388.50,49.44 L389.00,50.86 L389.50,52.25 L390.00,53.67 L390.50,55.12 L391.00,56.58 L391.50,58.03 L392.00,59.45 L392.50,60.82 L393.00,62.13 L393.50,63.36 L394.00,64.49 L394.50,65.49 L395.00,66.45 L395.50,67.40 L396.00,68.32 L396.50,69.21 L397.00,70.04 L397.50,70.81 L398.00,71.50 L398.50,72.10 L399.00,72.61 L399.50,73.00 L400.00,73.33 L400.50,73.64 L401.00,73.95 L401.50,74.23 L402.00,74.48 L402.50,74.71 L403.00,74.90 L403.50,75.04 L404.00,75.15 L404.50,75.20 L405.00,75.20 L405.50,75.17 L406.00,75.12 L406.50,75.06 L407.00,74.99 L407.50,74.90 L408.00,74.81 L408.50,74.72 L409.00,74.63 L409.50,74.54 L410.00,74.47 L410.50,74.40 L411.00,74.35 L411.50,74.31 L412.00,74.30 L412.50,74.31 L413.00,74.34 L413.50,74.39 L414.00,74.46 L414.50,74.55 L415.00,74.65 L415.50,74.77 L416.00,74.90 L416.50,75.03 L417.00,75.18 L417.50,75.34 L418.00,75.50 L418.50,75.67 L419.00,75.84 L419.50,76.01 L420.00,76.19 L420.50,76.36 L421.00,76.53 L421.50,76.70 L422.00,76.86 L422.50,77.02 L423.00,77.17 L423.50,77.30 L424.00,77.43 L424.50,77.55 L425.00,77.65 L425.50,77.74 L426.00,77.81 L426.50,77.86 L427.00,77.89 L427.50,77.90 L428.00,77.89 L428.50,77.88 L429.00,77.85 L429.50,77.82 L430.00,77.78 L430.50,77.73 L431.00,77.68 L431.50,77.62 L432.00,77.55 L432.50,77.48 L433.00,77.41 L433.50,77.34 L434.00,77.26 L434.50,77.18 L435.00,77.11 L435.50,77.03 L436.00,76.96 L436.50,76.89 L437.00,76.82 L437.50,76.76 L438.00,76.70 L438.50,76.65 L439.00,76.60 L439.50,76.57 L440.00,76.53 L440.50,76.51 L441.00,76.50 L441.50,76.50 L442.00,76.50 L442.50,76.50 L443.00,76.50 L443.50,76.50 L444.00,76.51 L444.50,76.51 L445.00,76.52 L445.50,76.52 L446.00,76.53 L446.50,76.54 L447.00,76.54 L447.50,76.56 L448.00,76.57 L448.50,76.58 L449.00,76.60 L449.50,76.61 L450.00,76.63 L450.50,76.65 L451.00,76.67 L451.50,76.70 L452.00,76.72 L452.50,76.75 L453.00,76.78 L453.50,76.81 L454.00,76.85 L454.50,76.88 L455.00,76.92 L455.50,76.97 L456.00,77.01 L456.50,77.06 L457.00,77.11 L457.50,77.17 L458.00,77.22 L458.50,77.28 L459.00,77.35 L459.40,77.40" stroke="#1a1a1a"/>
<path d="M298.50,120.00 L299.00,120.28 L299.50,120.57 L300.00,120.87 L300.50,121.17 L301.00,121.49 L301.50,121.81 L302.00,122.14 L302.50,122.48 L303.00,122.83 L303.50,123.18 L304.00,123.55 L304.50,123.94 L305.00,124.35 L305.50,124.78 L306.00,125.22 L306.50,125.66 L307.00,126.10 L307.50,126.53 L308.00,126.94 L308.50,127.32 L309.00,127.67 L309.50,128.02 L310.00,128.40 L310.50,128.78 L311.00,129.16 L311.50,129.53 L312.00,129.87 L312.50,130.19 L313.00,130.47 L313.50,130.70 L314.00,130.87 L314.50,130.97 L315.00,131.00 L315.50,130.95 L316.00,130.85 L316.50,130.69 L317.00,130.49 L317.50,130.26 L318.00,130.00 L318.50,129.72 L319.00,129.42 L319.50,129.10 L320.00,128.68 L320.50,128.17 L321.00,127.58 L321.50,126.92 L322.00,126.21 L322.50,125.44 L323.00,124.65 L323.50,123.83 L324.00,123.00 L324.50,122.16 L325.00,121.28 L325.50,120.33 L326.00,119.33 L326.50,118.27 L327.00,117.17 L327.50,116.03 L328.00,114.85 L328.50,113.64 L329.00,112.40 L329.50,111.15 L330.00,109.82 L330.50,108.41 L331.00,106.93 L331.50,105.40 L332.00,103.84 L332.50,102.26 L333.00,100.68 L333.50,99.12 L334.00,97.58 L334.50,96.10 L335.00,94.65 L335.50,93.22 L336.00,91.80 L336.50,90.39 L337.00,89.00 L337.50,87.51 L338.00,85.92 L338.50,84.38 L339.00,83.06 L339.50,82.13 L340.00,81.55 L340.50,81.03 L341.00,80.55 L341.50,80.12 L342.00,79.72 L342.50,79.37 L343.00,79.06 L343.50,78.79 L344.00,78.56 L344.50,78.36 L345.00,78.21 L345.50,78.10 L346.00,78.02 L346.50,77.94 L347.00,77.89 L347.50,77.84 L348.00,77.80 L348.50,77.76 L349.00,77.72 L349.50,77.69 L350.00,77.65 L350.50,77.60 L351.00,77.55 L351.50,77.49 L352.00,77.42 L352.50,77.33 L353.00,77.22 L353.50,77.09 L354.00,76.94 L354.50,76.77 L355.00,76.58 L355.50,76.38 L356.00,76.16 L356.50,75.92 L357.00,75.66 L357.50,75.39 L358.00,75.10 L358.50,74.76 L359.00,74.35 L359.50,73.86 L360.00,73.32 L360.50,72.72 L361.00,72.08 L361.50,71.40 L362.00,70.69 L362.50,69.95 L363.00,69.20 L363.50,68.41 L364.00,67.45 L364.50,66.37 L365.00,65.22 L365.50,64.07 L366.00,62.99 L366.50,62.02 L367.00,61.23 L367.50,60.60 L368.00,60.00 L368.50,59.42 L369.00,58.89 L369.50,58.41 L370.00,57.98 L370.50,57.63 L371.00,57.35 L371.50,57.17 L372.00,57.02 L372.50,56.88 L373.00,56.76 L373.50,56.64 L374.00,56.55 L374.50,56.48 L375.00,56.43 L375.50,56.40 L376.00,56.41 L376.50,56.48 L377.00,56.59 L377.50,56.75 L378.00,56.95 L378.50,57.19 L379.00,57.45 L379.50,57.73 L380.00,58.02 L380.50,58.32 L381.00,58.63 L381.50,59.01 L382.00,59.46 L382.50,59.98 L383.00,60.56 L383.50,61.17 L384.00,61.82 L384.50,62.48 L385.00,63.15 L385.50,63.81 L386.00,64.45 L386.50,65.07 L387.00,65.65 L387.50,66.25 L388.00,66.86 L388.50,67.48 L389.00,68.10 L389.50,68.72 L390.00,69.32 L390.50,69.92 L391.00,70.49 L391.50,71.04 L392.00,71.55 L392.50,72.02 L393.00,72.46 L393.50,72.90 L394.00,73.33 L394.50,73.75 L395.00,74.16 L395.50,74.55 L396.00,74.93 L396.50,75.27 L397.00,75.59 L397.50,75.88 L398.00,76.12 L398.50,76.33 L399.00,76.50 L399.50,76.66 L400.00,76.82 L400.50,76.97 L401.00,77.12 L401.50,77.25 L402.00,77.37 L402.50,77.47 L403.00,77.56 L403.50,77.63 L404.00,77.67 L404.50,77.70 L405.00,77.70 L405.50,77.70 L406.00,77.70 L406.50,77.70 L407.00,77.70 L407.50,77.70 L408.00,77.70 L408.50,77.70 L409.00,77.70 L409.50,77.70 L410.00,77.70 L410.50,77.70 L411.00,77.70 L411.50,77.70 L412.00,77.70 L412.50,77.67 L413.00,77.59 L413.50,77.46 L414.00,77.29 L414.50,77.11 L415.00,76.91 L415.50,76.71 L416.00,76.51 L416.50,76.34 L417.00,76.19 L417.50,76.08 L418.00,76.01 L418.50,76.00 L419.00,76.00 L419.50,76.00 L420.00,76.01 L420.50,76.01 L421.00,76.01 L421.50,76.02 L422.00,76.03 L422.50,76.03 L423.00,76.04 L423.50,76.05 L424.00,76.06 L424.50,76.07 L425.00,76.08 L425.50,76.10 L426.00,76.11 L426.50,76.12 L427.00,76.14 L427.50,76.15 L428.00,76.17 L428.50,76.18 L429.00,76.20 L429.50,76.21 L430.00,76.23 L430.50,76.25 L431.00,76.27 L431.50,76.29 L432.00,76.31 L432.50,76.32 L433.00,76.34 L433.50,76.36 L434.00,76.39 L434.50,76.41 L435.00,76.43 L435.50,76.45 L436.00,76.47 L436.50,76.49 L437.00,76.51 L437.50,76.54 L438.00,76.56 L438.50,76.59 L439.00,76.62 L439.50,76.66 L440.00,76.69 L440.50,76.73 L441.00,76.77 L441.50,76.81 L442.00,76.85 L442.50,76.90 L443.00,76.95 L443.50,77.00 L444.00,77.05 L444.50,77.10 L445.00,77.16 L445.50,77.21 L446.00,77.27 L446.50,77.33 L447.00,77.39 L447.50,77.45 L448.00,77.52 L448.50,77.58 L449.00,77.65 L449.50,77.72 L450.00,77.79 L450.50,77.86 L451.00,77.93 L451.50,78.00 L452.00,78.08 L452.50,78.15 L453.00,78.23 L453.50,78.31 L454.00,78.39 L454.50,78.47 L455.00,78.55 L455.50,78.63 L456.00,78.72 L456.50,78.80 L457.00,78.88 L457.50,78.97 L458.00,79.06 L458.50,79.14 L459.00,79.23 L459.40,79.30" stroke="#ff1a1a"/>
<path d="M298.50,95.20 L299.00,95.59 L299.50,96.01 L300.00,96.44 L300.50,96.89 L301.00,97.36 L301.50,97.85 L302.00,98.36 L302.50,98.88 L303.00,99.42 L303.50,99.96 L304.00,100.53 L304.50,101.15 L305.00,101.82 L305.50,102.52 L306.00,103.25 L306.50,103.98 L307.00,104.71 L307.50,105.42 L308.00,106.10 L308.50,106.73 L309.00,107.31 L309.50,107.89 L310.00,108.50 L310.50,109.12 L311.00,109.75 L311.50,110.36 L312.00,110.96 L312.50,111.52 L313.00,112.04 L313.50,112.51 L314.00,112.91 L314.50,113.22 L315.00,113.45 L315.50,113.58 L316.00,113.60 L316.50,113.55 L317.00,113.47 L317.50,113.34 L318.00,113.18 L318.50,112.99 L319.00,112.78 L319.50,112.55 L320.00,112.30 L320.50,111.96 L321.00,111.45 L321.50,110.81 L322.00,110.08 L322.50,109.27 L323.00,108.43 L323.50,107.59 L324.00,106.77 L324.50,106.00 L325.00,105.25 L325.50,104.51 L326.00,103.77 L326.50,103.00 L327.00,102.22 L327.50,101.40 L328.00,100.53 L328.50,99.62 L329.00,98.64 L329.50,97.58 L330.00,96.35 L330.50,94.94 L331.00,93.39 L331.50,91.77 L332.00,90.12 L332.50,88.50 L333.00,86.95 L333.50,85.52 L334.00,84.23 L334.50,83.00 L335.00,82.00 L335.50,81.21 L336.00,80.50 L336.50,79.85 L337.00,79.27 L337.50,78.77 L338.00,78.33 L338.50,77.96 L339.00,77.61 L339.50,77.27 L340.00,76.96 L340.50,76.67 L341.00,76.41 L341.50,76.19 L342.00,76.01 L342.50,75.87 L343.00,75.79 L343.50,75.73 L344.00,75.68 L344.50,75.65 L345.00,75.62 L345.50,75.59 L346.00,75.56 L346.50,75.53 L347.00,75.50 L347.50,75.46 L348.00,75.41 L348.50,75.35 L349.00,75.27 L349.50,75.18 L350.00,75.08 L350.50,74.97 L351.00,74.84 L351.50,74.71 L352.00,74.56 L352.50,74.40 L353.00,74.24 L353.50,74.06 L354.00,73.86 L354.50,73.63 L355.00,73.36 L355.50,73.07 L356.00,72.76 L356.50,72.42 L357.00,72.06 L357.50,71.68 L358.00,71.29 L358.50,70.88 L359.00,70.46 L359.50,69.99 L360.00,69.48 L360.50,68.92 L361.00,68.32 L361.50,67.68 L362.00,67.00 L362.50,66.22 L363.00,65.30 L363.50,64.28 L364.00,63.19 L364.50,62.06 L365.00,60.92 L365.50,59.81 L366.00,58.76 L366.50,57.79 L367.00,56.95 L367.50,56.21 L368.00,55.48 L368.50,54.76 L369.00,54.07 L369.50,53.42 L370.00,52.80 L370.50,52.24 L371.00,51.73 L371.50,51.29 L372.00,50.92 L372.50,50.62 L373.00,50.34 L373.50,50.06 L374.00,49.80 L374.50,49.57 L375.00,49.38 L375.50,49.23 L376.00,49.13 L376.50,49.10 L377.00,49.15 L377.50,49.30 L378.00,49.54 L378.50,49.84 L379.00,50.20 L379.50,50.59 L380.00,51.01 L380.50,51.44 L381.00,51.88 L381.50,52.42 L382.00,53.05 L382.50,53.77 L383.00,54.56 L383.50,55.39 L384.00,56.25 L384.50,57.11 L385.00,57.96 L385.50,58.78 L386.00,59.55 L386.50,60.31 L387.00,61.08 L387.50,61.85 L388.00,62.63 L388.50,63.39 L389.00,64.15 L389.50,64.90 L390.00,65.62 L390.50,66.33 L391.00,67.00 L391.50,67.66 L392.00,68.33 L392.50,68.99 L393.00,69.65 L393.50,70.28 L394.00,70.89 L394.50,71.47 L395.00,72.01 L395.50,72.49 L396.00,72.92 L396.50,73.30 L397.00,73.67 L397.50,74.01 L398.00,74.34 L398.50,74.65 L399.00,74.94 L399.50,75.21 L400.00,75.47 L400.50,75.72 L401.00,75.95 L401.50,76.16 L402.00,76.36 L402.50,76.55 L403.00,76.74 L403.50,76.94 L404.00,77.13 L404.50,77.32 L405.00,77.51 L405.50,77.69 L406.00,77.87 L406.50,78.05 L407.00,78.21 L407.50,78.37 L408.00,78.52 L408.50,78.66 L409.00,78.79 L409.50,78.91 L410.00,79.01 L410.50,79.10 L411.00,79.18 L411.50,79.23 L412.00,79.27 L412.50,79.30 L413.00,79.30 L413.50,79.26 L414.00,79.19 L414.50,79.09 L415.00,78.96 L415.50,78.81 L416.00,78.63 L416.50,78.45 L417.00,78.25 L417.50,78.05 L418.00,77.84 L418.50,77.63 L419.00,77.43 L419.50,77.24 L420.00,77.06 L420.50,76.90 L421.00,76.76 L421.50,76.65 L422.00,76.56 L422.50,76.51 L423.00,76.50 L423.50,76.51 L424.00,76.52 L424.50,76.54 L425.00,76.57 L425.50,76.60 L426.00,76.64 L426.50,76.68 L427.00,76.73 L427.50,76.78 L428.00,76.84 L428.50,76.90 L429.00,76.96 L429.50,77.03 L430.00,77.09 L430.50,77.16 L431.00,77.23 L431.50,77.30 L432.00,77.36 L432.50,77.43 L433.00,77.50 L433.50,77.56 L434.00,77.62 L434.50,77.68 L435.00,77.74 L435.50,77.79 L436.00,77.84 L436.50,77.88 L437.00,77.92 L437.50,77.96 L438.00,78.00 L438.50,78.04 L439.00,78.08 L439.50,78.12 L440.00,78.15 L440.50,78.19 L441.00,78.23 L441.50,78.27 L442.00,78.30 L442.50,78.34 L443.00,78.37 L443.50,78.41 L444.00,78.45 L444.50,78.48 L445.00,78.51 L445.50,78.55 L446.00,78.58 L446.50,78.62 L447.00,78.65 L447.50,78.68 L448.00,78.71 L448.50,78.75 L449.00,78.78 L449.50,78.81 L450.00,78.84 L450.50,78.87 L451.00,78.90 L451.50,78.93 L452.00,78.95 L452.50,78.98 L453.00,79.01 L453.50,79.03 L454.00,79.06 L454.50,79.09 L455.00,79.11 L455.50,79.13 L456.00,79.16 L456.50,79.18 L457.00,79.20 L457.50,79.22 L458.00,79.25 L458.50,79.27 L459.00,79.28 L459.40,79.30" stroke="#1a1aff"/>
<path d="M298.50,126.30 L299.00,126.87 L299.50,127.45 L300.00,128.03 L300.50,128.63 L301.00,129.22 L301.50,129.83 L302.00,130.44 L302.50,131.06 L303.00,131.69 L303.50,132.32 L304.00,132.96 L304.50,133.64 L305.00,134.34 L305.50,135.07 L306.00,135.81 L306.50,136.54 L307.00,137.25 L307.50,137.94 L308.00,138.58 L308.50,139.17 L309.00,139.70 L309.50,140.23 L310.00,140.78 L310.50,141.32 L311.00,141.86 L311.50,142.36 L312.00,142.81 L312.50,143.20 L313.00,143.50 L313.50,143.71 L314.00,143.80 L314.50,143.78 L315.00,143.70 L315.50,143.56 L316.00,143.37 L316.50,143.15 L317.00,142.89 L317.50,142.60 L318.00,142.29 L318.50,141.96 L319.00,141.49 L319.50,140.89 L320.00,140.17 L320.50,139.35 L321.00,138.46 L321.50,137.50 L322.00,136.51 L322.50,135.50 L323.00,134.44 L323.50,133.25 L324.00,131.93 L324.50,130.51 L325.00,129.03 L325.50,127.50 L326.00,125.94 L326.50,124.39 L327.00,122.86 L327.50,121.37 L328.00,119.95 L328.50,118.52 L329.00,117.09 L329.50,115.66 L330.00,114.23 L330.50,112.80 L331.00,111.38 L331.50,109.96 L332.00,108.54 L332.50,107.13 L333.00,105.74 L333.50,104.35 L334.00,102.97 L334.50,101.54 L335.00,100.10 L335.50,98.64 L336.00,97.20 L336.50,95.78 L337.00,94.40 L337.50,93.09 L338.00,91.86 L338.50,90.73 L339.00,89.70 L339.50,88.76 L340.00,87.88 L340.50,87.04 L341.00,86.24 L341.50,85.48 L342.00,84.75 L342.50,84.05 L343.00,83.37 L343.50,82.70 L344.00,82.05 L344.50,81.42 L345.00,80.82 L345.50,80.24 L346.00,79.67 L346.50,79.11 L347.00,78.57 L347.50,78.03 L348.00,77.51 L348.50,76.99 L349.00,76.50 L349.50,76.03 L350.00,75.57 L350.50,75.10 L351.00,74.63 L351.50,74.14 L352.00,73.61 L352.50,73.06 L353.00,72.50 L353.50,71.94 L354.00,71.35 L354.50,70.74 L355.00,70.10 L355.50,69.43 L356.00,68.70 L356.50,67.93 L357.00,67.08 L357.50,66.10 L358.00,65.02 L358.50,63.85 L359.00,62.62 L359.50,61.36 L360.00,60.08 L360.50,58.81 L361.00,57.58 L361.50,56.38 L362.00,55.16 L362.50,53.90 L363.00,52.63 L363.50,51.36 L364.00,50.10 L364.50,48.87 L365.00,47.69 L365.50,46.56 L366.00,45.50 L366.50,44.51 L367.00,43.51 L367.50,42.51 L368.00,41.53 L368.50,40.60 L369.00,39.76 L369.50,39.02 L370.00,38.43 L370.50,38.00 L371.00,37.67 L371.50,37.36 L372.00,37.07 L372.50,36.81 L373.00,36.59 L373.50,36.41 L374.00,36.28 L374.50,36.21 L375.00,36.21 L375.50,36.30 L376.00,36.48 L376.50,36.74 L377.00,37.07 L377.50,37.45 L378.00,37.88 L378.50,38.33 L379.00,38.80 L379.50,39.36 L380.00,40.10 L380.50,41.02 L381.00,42.06 L381.50,43.19 L382.00,44.37 L382.50,45.56 L383.00,46.73 L383.50,47.84 L384.00,49.00 L384.50,50.20 L385.00,51.43 L385.50,52.68 L386.00,53.92 L386.50,55.15 L387.00,56.34 L387.50,57.48 L388.00,58.58 L388.50,59.68 L389.00,60.79 L389.50,61.88 L390.00,62.95 L390.50,63.99 L391.00,64.98 L391.50,65.92 L392.00,66.80 L392.50,67.60 L393.00,68.34 L393.50,69.06 L394.00,69.76 L394.50,70.45 L395.00,71.11 L395.50,71.74 L396.00,72.33 L396.50,72.88 L397.00,73.39 L397.50,73.85 L398.00,74.25 L398.50,74.58 L399.00,74.87 L399.50,75.14 L400.00,75.41 L400.50,75.66 L401.00,75.91 L401.50,76.13 L402.00,76.33 L402.50,76.51 L403.00,76.66 L403.50,76.78 L404.00,76.86 L404.50,76.90 L405.00,76.89 L405.50,76.81 L406.00,76.67 L406.50,76.48 L407.00,76.25 L407.50,75.99 L408.00,75.70 L408.50,75.40 L409.00,75.10 L409.50,74.80 L410.00,74.51 L410.50,74.25 L411.00,74.02 L411.50,73.83 L412.00,73.69 L412.50,73.61 L413.00,73.60 L413.50,73.62 L414.00,73.66 L414.50,73.71 L415.00,73.78 L415.50,73.86 L416.00,73.96 L416.50,74.06 L417.00,74.16 L417.50,74.27 L418.00,74.38 L418.50,74.49 L419.00,74.60 L419.50,74.70 L420.00,74.80 L420.50,74.89 L421.00,74.96 L421.50,75.02 L422.00,75.07 L422.50,75.09 L423.00,75.10 L423.50,75.09 L424.00,75.05 L424.50,75.00 L425.00,74.93 L425.50,74.85 L426.00,74.75 L426.50,74.64 L427.00,74.53 L427.50,74.40 L428.00,74.27 L428.50,74.13 L429.00,73.98 L429.50,73.84 L430.00,73.69 L430.50,73.55 L431.00,73.40 L431.50,73.26 L432.00,73.13 L432.50,73.00 L433.00,72.88 L433.50,72.77 L434.00,72.67 L434.50,72.58 L435.00,72.51 L435.50,72.46 L436.00,72.42 L436.50,72.40 L437.00,72.41 L437.50,72.47 L438.00,72.58 L438.50,72.73 L439.00,72.92 L439.50,73.14 L440.00,73.38 L440.50,73.65 L441.00,73.94 L441.50,74.24 L442.00,74.54 L442.50,74.84 L443.00,75.14 L443.50,75.43 L444.00,75.70 L444.50,75.95 L445.00,76.18 L445.50,76.37 L446.00,76.53 L446.50,76.67 L447.00,76.82 L447.50,76.96 L448.00,77.10 L448.50,77.24 L449.00,77.37 L449.50,77.51 L450.00,77.64 L450.50,77.77 L451.00,77.89 L451.50,78.01 L452.00,78.13 L452.50,78.24 L453.00,78.35 L453.50,78.46 L454.00,78.56 L454.50,78.66 L455.00,78.75 L455.50,78.84 L456.00,78.92 L456.50,78.99 L457.00,79.06 L457.50,79.12 L458.00,79.18 L458.50,79.23 L459.00,79.27 L459.40,79.30" stroke="#ff6414"/>
<path d="M298.50,105.00 L299.00,105.51 L299.50,106.02 L300.00,106.53 L300.50,107.05 L301.00,107.58 L301.50,108.11 L302.00,108.64 L302.50,109.18 L303.00,109.72 L303.50,110.27 L304.00,110.82 L304.50,111.40 L305.00,112.01 L305.50,112.63 L306.00,113.25 L306.50,113.87 L307.00,114.48 L307.50,115.06 L308.00,115.61 L308.50,116.13 L309.00,116.59 L309.50,117.05 L310.00,117.53 L310.50,118.02 L311.00,118.50 L311.50,118.97 L312.00,119.40 L312.50,119.80 L313.00,120.15 L313.50,120.43 L314.00,120.64 L314.50,120.77 L315.00,120.80 L315.50,120.77 L316.00,120.69 L316.50,120.57 L317.00,120.42 L317.50,120.25 L318.00,120.05 L318.50,119.83 L319.00,119.60 L319.50,119.33 L320.00,118.96 L320.50,118.49 L321.00,117.92 L321.50,117.28 L322.00,116.59 L322.50,115.85 L323.00,115.09 L323.50,114.32 L324.00,113.55 L324.50,112.80 L325.00,112.02 L325.50,111.20 L326.00,110.34 L326.50,109.45 L327.00,108.53 L327.50,107.59 L328.00,106.62 L328.50,105.63 L329.00,104.62 L329.50,103.59 L330.00,102.52 L330.50,101.40 L331.00,100.24 L331.50,99.05 L332.00,97.84 L332.50,96.61 L333.00,95.39 L333.50,94.17 L334.00,92.97 L334.50,91.80 L335.00,90.61 L335.50,89.39 L336.00,88.17 L336.50,87.01 L337.00,85.93 L337.50,85.00 L338.00,84.16 L338.50,83.37 L339.00,82.64 L339.50,82.00 L340.00,81.47 L340.50,81.06 L341.00,80.66 L341.50,80.27 L342.00,79.89 L342.50,79.54 L343.00,79.21 L343.50,78.92 L344.00,78.66 L344.50,78.44 L345.00,78.28 L345.50,78.16 L346.00,78.11 L346.50,78.11 L347.00,78.14 L347.50,78.19 L348.00,78.27 L348.50,78.36 L349.00,78.46 L349.50,78.56 L350.00,78.66 L350.50,78.76 L351.00,78.85 L351.50,78.92 L352.00,78.97 L352.50,79.00 L353.00,78.99 L353.50,78.92 L354.00,78.80 L354.50,78.64 L355.00,78.43 L355.50,78.19 L356.00,77.92 L356.50,77.63 L357.00,77.33 L357.50,77.02 L358.00,76.70 L358.50,76.35 L359.00,75.94 L359.50,75.47 L360.00,74.95 L360.50,74.39 L361.00,73.79 L361.50,73.15 L362.00,72.48 L362.50,71.79 L363.00,71.09 L363.50,70.36 L364.00,69.57 L364.50,68.72 L365.00,67.82 L365.50,66.87 L366.00,65.88 L366.50,64.84 L367.00,63.77 L367.50,62.67 L368.00,61.53 L368.50,60.16 L369.00,58.62 L369.50,56.97 L370.00,55.30 L370.50,53.71 L371.00,52.28 L371.50,51.09 L372.00,50.23 L372.50,49.71 L373.00,49.24 L373.50,48.81 L374.00,48.41 L374.50,48.07 L375.00,47.79 L375.50,47.58 L376.00,47.45 L376.50,47.40 L377.00,47.45 L377.50,47.60 L378.00,47.83 L378.50,48.13 L379.00,48.48 L379.50,48.88 L380.00,49.30 L380.50,49.74 L381.00,50.19 L381.50,50.76 L382.00,51.46 L382.50,52.27 L383.00,53.15 L383.50,54.08 L384.00,55.04 L384.50,56.01 L385.00,56.95 L385.50,57.84 L386.00,58.66 L386.50,59.45 L387.00,60.25 L387.50,61.04 L388.00,61.83 L388.50,62.61 L389.00,63.37 L389.50,64.12 L390.00,64.84 L390.50,65.53 L391.00,66.20 L391.50,66.85 L392.00,67.51 L392.50,68.16 L393.00,68.81 L393.50,69.44 L394.00,70.05 L394.50,70.64 L395.00,71.20 L395.50,71.72 L396.00,72.19 L396.50,72.62 L397.00,73.00 L397.50,73.34 L398.00,73.67 L398.50,73.99 L399.00,74.29 L399.50,74.58 L400.00,74.85 L400.50,75.10 L401.00,75.32 L401.50,75.53 L402.00,75.71 L402.50,75.87 L403.00,76.00 L403.50,76.11 L404.00,76.23 L404.50,76.33 L405.00,76.44 L405.50,76.54 L406.00,76.63 L406.50,76.72 L407.00,76.81 L407.50,76.89 L408.00,76.97 L408.50,77.04 L409.00,77.11 L409.50,77.17 L410.00,77.22 L410.50,77.27 L411.00,77.31 L411.50,77.34 L412.00,77.37 L412.50,77.39 L413.00,77.40 L413.50,77.42 L414.00,77.43 L414.50,77.44 L415.00,77.45 L415.50,77.46 L416.00,77.47 L416.50,77.49 L417.00,77.50 L417.50,77.51 L418.00,77.52 L418.50,77.53 L419.00,77.54 L419.50,77.55 L420.00,77.56 L420.50,77.57 L421.00,77.58 L421.50,77.59 L422.00,77.60 L422.50,77.61 L423.00,77.61 L423.50,77.62 L424.00,77.63 L424.50,77.64 L425.00,77.65 L425.50,77.66 L426.00,77.66 L426.50,77.67 L427.00,77.68 L427.50,77.69 L428.00,77.69 L428.50,77.70 L429.00,77.71 L429.50,77.72 L430.00,77.72 L430.50,77.73 L431.00,77.74 L431.50,77.74 L432.00,77.75 L432.50,77.75 L433.00,77.76 L433.50,77.77 L434.00,77.77 L434.50,77.78 L435.00,77.78 L435.50,77.79 L436.00,77.79 L436.50,77.80 L437.00,77.80 L437.50,77.81 L438.00,77.81 L438.50,77.82 L439.00,77.82 L439.50,77.82 L440.00,77.83 L440.50,77.83 L441.00,77.84 L441.50,77.84 L442.00,77.84 L442.50,77.85 L443.00,77.85 L443.50,77.85 L444.00,77.86 L444.50,77.86 L445.00,77.86 L445.50,77.86 L446.00,77.87 L446.50,77.87 L447.00,77.87 L447.50,77.87 L448.00,77.88 L448.50,77.88 L449.00,77.88 L449.50,77.88 L450.00,77.88 L450.50,77.89 L451.00,77.89 L451.50,77.89 L452.00,77.89 L452.50,77.89 L453.00,77.89 L453.50,77.89 L454.00,77.89 L454.50,77.90 L455.00,77.90 L455.50,77.90 L456.00,77.90 L456.50,77.90 L457.00,77.90 L457.50,77.90 L458.00,77.90 L458.50,77.90 L459.00,77.90 L459.40,77.90" stroke="#0c7a0c"/>
</g>
<rect x="298.7" y="9.5" width="160.80" height="136.70" fill="none" stroke="#bdbdbd" stroke-width="1.2"/>
<line x1="349.9" y1="100.9" x2="360.9" y2="100.9" stroke="#1a1a1a" stroke-width="2.0"/>
<text transform="translate(366.60,103.40) scale(0.9,1)" font-size="7"  textLength="48.89" lengthAdjust="spacing" fill="#222" stroke="#222" stroke-width="0.12">PEI-Max 30 µL</text>
<line x1="349.9" y1="109.8" x2="360.9" y2="109.8" stroke="#ff1a1a" stroke-width="2.0"/>
<text transform="translate(366.60,112.30) scale(0.9,1)" font-size="7"  textLength="60.67" lengthAdjust="spacing" fill="#222" stroke="#222" stroke-width="0.12">TransFectin 15 µL</text>
<line x1="349.9" y1="118.2" x2="360.9" y2="118.2" stroke="#1a1aff" stroke-width="2.0"/>
<text transform="translate(366.60,120.70) scale(0.9,1)" font-size="7"  textLength="60.67" lengthAdjust="spacing" fill="#222" stroke="#222" stroke-width="0.12">TransFectin 20 µL</text>
<line x1="349.9" y1="127.0" x2="360.9" y2="127.0" stroke="#ff6414" stroke-width="2.0"/>
<text transform="translate(366.60,129.50) scale(0.9,1)" font-size="7"  textLength="60.67" lengthAdjust="spacing" fill="#222" stroke="#222" stroke-width="0.12">TransFectin 30 µL</text>
<line x1="349.9" y1="135.5" x2="360.9" y2="135.5" stroke="#0c7a0c" stroke-width="2.0"/>
<text transform="translate(366.60,138.00) scale(0.9,1)" font-size="7"  textLength="60.67" lengthAdjust="spacing" fill="#222" stroke="#222" stroke-width="0.12">TransFectin 60 µL</text>
<text transform="translate(287.60,15.80) scale(0.9,1)" font-size="14.2" text-anchor="end" textLength="29.78" lengthAdjust="spacing" fill="#111" stroke="#111" stroke-width="0.35">0.02</text>
<text transform="translate(287.60,83.60) scale(0.9,1)" font-size="14.2" text-anchor="end" textLength="8.11" lengthAdjust="spacing" fill="#111" stroke="#111" stroke-width="0.35">0</text>
<text transform="translate(287.60,151.40) scale(0.9,1)" font-size="14.2" text-anchor="end" textLength="35.22" lengthAdjust="spacing" fill="#111" stroke="#111" stroke-width="0.35">-0.02</text>
<text transform="translate(294.30,166.00) scale(0.9,1)" font-size="13.6" text-anchor="middle" textLength="25.78" lengthAdjust="spacing" fill="#111" stroke="#111" stroke-width="0.35">400</text>
<text transform="translate(376.90,166.00) scale(0.9,1)" font-size="13.6" text-anchor="middle" textLength="25.78" lengthAdjust="spacing" fill="#111" stroke="#111" stroke-width="0.35">450</text>
<text transform="translate(459.70,166.00) scale(0.9,1)" font-size="13.6" text-anchor="middle" textLength="25.78" lengthAdjust="spacing" fill="#111" stroke="#111" stroke-width="0.35">500</text>
<text transform="translate(377.00,184.00) scale(0.9,1)" font-size="15" text-anchor="middle" textLength="121.56" lengthAdjust="spacing" fill="#111" stroke="#111" stroke-width="0.35">Wavelength (nm)</text>
<text transform="translate(251.40,73.80) rotate(-90) scale(0.9,1)" font-size="15.5" text-anchor="middle" textLength="84.22" lengthAdjust="spacing" fill="#111" stroke="#111" stroke-width="0.35">Absorbance</text>
<clipPath id="clipA2"><rect x="535.6" y="9.5" width="160.79999999999995" height="136.7"/></clipPath>
<line x1="535.6" y1="77.5" x2="696.4" y2="77.5" stroke="#e4e4e4" stroke-width="1"/>
<line x1="551.68" y1="146.2" x2="551.68" y2="144.2" stroke="#c8c8c8" stroke-width="0.8"/>
<line x1="567.76" y1="146.2" x2="567.76" y2="144.2" stroke="#c8c8c8" stroke-width="0.8"/>
<line x1="583.84" y1="146.2" x2="583.84" y2="144.2" stroke="#c8c8c8" stroke-width="0.8"/>
<line x1="599.92" y1="146.2" x2="599.92" y2="144.2" stroke="#c8c8c8" stroke-width="0.8"/>
<line x1="616.00" y1="146.2" x2="616.00" y2="144.2" stroke="#c8c8c8" stroke-width="0.8"/>
<line x1="632.08" y1="146.2" x2="632.08" y2="144.2" stroke="#c8c8c8" stroke-width="0.8"/>
<line x1="648.16" y1="146.2" x2="648.16" y2="144.2" stroke="#c8c8c8" stroke-width="0.8"/>
<line x1="664.24" y1="146.2" x2="664.24" y2="144.2" stroke="#c8c8c8" stroke-width="0.8"/>
<line x1="680.32" y1="146.2" x2="680.32" y2="144.2" stroke="#c8c8c8" stroke-width="0.8"/>
<line x1="535.6" y1="26.59" x2="537.6" y2="26.59" stroke="#c8c8c8" stroke-width="0.8"/>
<line x1="535.6" y1="43.67" x2="537.6" y2="43.67" stroke="#c8c8c8" stroke-width="0.8"/>
<line x1="535.6" y1="60.76" x2="537.6" y2="60.76" stroke="#c8c8c8" stroke-width="0.8"/>
<line x1="535.6" y1="94.94" x2="537.6" y2="94.94" stroke="#c8c8c8" stroke-width="0.8"/>
<line x1="535.6" y1="112.02" x2="537.6" y2="112.02" stroke="#c8c8c8" stroke-width="0.8"/>
<line x1="535.6" y1="129.11" x2="537.6" y2="129.11" stroke="#c8c8c8" stroke-width="0.8"/>
<g clip-path="url(#clipA2)" fill="none" stroke-width="1.05" stroke-linejoin="round">
<path d="M535.30,134.90 L535.80,135.07 L536.30,135.27 L536.80,135.49 L537.30,135.73 L537.80,136.00 L538.30,136.28 L538.80,136.57 L539.30,136.88 L539.80,137.21 L540.30,137.55 L540.80,137.90 L541.30,138.28 L541.80,138.72 L542.30,139.20 L542.80,139.72 L543.30,140.26 L543.80,140.84 L544.30,141.43 L544.80,142.03 L545.30,142.64 L545.80,143.25 L546.30,143.84 L546.80,144.43 L547.30,144.99 L547.80,145.52 L548.30,146.01 L548.80,146.49 L549.30,147.02 L549.80,147.57 L550.30,148.09 L550.80,148.53 L551.30,148.85 L551.80,149.00 L552.30,148.94 L552.80,148.71 L553.30,148.35 L553.80,147.88 L554.30,147.35 L554.80,146.77 L555.30,146.20 L555.80,145.58 L556.30,144.84 L556.80,144.01 L557.30,143.09 L557.80,142.10 L558.30,141.04 L558.80,139.94 L559.30,138.79 L559.80,137.62 L560.30,136.44 L560.80,135.22 L561.30,133.90 L561.80,132.50 L562.30,131.03 L562.80,129.50 L563.30,127.93 L563.80,126.32 L564.30,124.70 L564.80,123.07 L565.30,121.45 L565.80,119.82 L566.30,118.14 L566.80,116.41 L567.30,114.64 L567.80,112.86 L568.30,111.07 L568.80,109.29 L569.30,107.54 L569.80,105.82 L570.30,104.17 L570.80,102.59 L571.30,101.06 L571.80,99.56 L572.30,98.09 L572.80,96.65 L573.30,95.23 L573.80,93.83 L574.30,92.46 L574.80,91.09 L575.30,89.74 L575.80,88.40 L576.30,87.03 L576.80,85.62 L577.30,84.20 L577.80,82.81 L578.30,81.48 L578.80,80.24 L579.30,79.12 L579.80,78.17 L580.30,77.36 L580.80,76.62 L581.30,75.94 L581.80,75.31 L582.30,74.71 L582.80,74.16 L583.30,73.62 L583.80,73.11 L584.30,72.60 L584.80,72.10 L585.30,71.62 L585.80,71.17 L586.30,70.74 L586.80,70.35 L587.30,69.96 L587.80,69.59 L588.30,69.21 L588.80,68.84 L589.30,68.45 L589.80,68.04 L590.30,67.60 L590.80,67.14 L591.30,66.64 L591.80,66.09 L592.30,65.49 L592.80,64.85 L593.30,64.16 L593.80,63.43 L594.30,62.65 L594.80,61.83 L595.30,60.96 L595.80,60.05 L596.30,59.10 L596.80,58.09 L597.30,56.98 L597.80,55.72 L598.30,54.37 L598.80,52.93 L599.30,51.43 L599.80,49.90 L600.30,48.36 L600.80,46.84 L601.30,45.36 L601.80,43.93 L602.30,42.44 L602.80,40.89 L603.30,39.31 L603.80,37.73 L604.30,36.19 L604.80,34.73 L605.30,33.36 L605.80,32.13 L606.30,31.07 L606.80,30.17 L607.30,29.26 L607.80,28.37 L608.30,27.50 L608.80,26.70 L609.30,25.97 L609.80,25.36 L610.30,24.87 L610.80,24.55 L611.30,24.40 L611.80,24.43 L612.30,24.55 L612.80,24.76 L613.30,25.04 L613.80,25.38 L614.30,25.79 L614.80,26.24 L615.30,26.73 L615.80,27.25 L616.30,27.80 L616.80,28.51 L617.30,29.49 L617.80,30.69 L618.30,32.02 L618.80,33.44 L619.30,34.88 L619.80,36.27 L620.30,37.59 L620.80,38.96 L621.30,40.38 L621.80,41.84 L622.30,43.31 L622.80,44.80 L623.30,46.28 L623.80,47.74 L624.30,49.16 L624.80,50.53 L625.30,51.85 L625.80,53.09 L626.30,54.31 L626.80,55.52 L627.30,56.71 L627.80,57.88 L628.30,59.03 L628.80,60.13 L629.30,61.20 L629.80,62.23 L630.30,63.21 L630.80,64.13 L631.30,65.00 L631.80,65.85 L632.30,66.72 L632.80,67.60 L633.30,68.48 L633.80,69.34 L634.30,70.17 L634.80,70.96 L635.30,71.69 L635.80,72.34 L636.30,72.92 L636.80,73.40 L637.30,73.77 L637.80,74.02 L638.30,74.14 L638.80,74.22 L639.30,74.30 L639.80,74.37 L640.30,74.42 L640.80,74.47 L641.30,74.52 L641.80,74.56 L642.30,74.60 L642.80,74.63 L643.30,74.66 L643.80,74.70 L644.30,74.73 L644.80,74.77 L645.30,74.81 L645.80,74.85 L646.30,74.90 L646.80,74.96 L647.30,75.03 L647.80,75.11 L648.30,75.20 L648.80,75.31 L649.30,75.42 L649.80,75.54 L650.30,75.67 L650.80,75.80 L651.30,75.93 L651.80,76.06 L652.30,76.19 L652.80,76.31 L653.30,76.43 L653.80,76.54 L654.30,76.64 L654.80,76.73 L655.30,76.81 L655.80,76.87 L656.30,76.91 L656.80,76.94 L657.30,76.98 L657.80,77.01 L658.30,77.05 L658.80,77.08 L659.30,77.11 L659.80,77.14 L660.30,77.17 L660.80,77.20 L661.30,77.22 L661.80,77.25 L662.30,77.28 L662.80,77.30 L663.30,77.32 L663.80,77.35 L664.30,77.37 L664.80,77.38 L665.30,77.40 L665.80,77.42 L666.30,77.43 L666.80,77.45 L667.30,77.46 L667.80,77.47 L668.30,77.48 L668.80,77.49 L669.30,77.49 L669.80,77.50 L670.30,77.50 L670.80,77.50 L671.30,77.50 L671.80,77.50 L672.30,77.50 L672.80,77.50 L673.30,77.50 L673.80,77.50 L674.30,77.50 L674.80,77.50 L675.30,77.50 L675.80,77.50 L676.30,77.50 L676.80,77.50 L677.30,77.50 L677.80,77.50 L678.30,77.50 L678.80,77.50 L679.30,77.50 L679.80,77.50 L680.30,77.50 L680.80,77.50 L681.30,77.50 L681.80,77.50 L682.30,77.50 L682.80,77.50 L683.30,77.50 L683.80,77.50 L684.30,77.50 L684.80,77.50 L685.30,77.48 L685.80,77.45 L686.30,77.42 L686.80,77.37 L687.30,77.31 L687.80,77.24 L688.30,77.16 L688.80,77.08 L689.30,76.99 L689.80,76.89 L690.30,76.78 L690.80,76.67 L691.30,76.55 L691.80,76.43 L692.30,76.30 L692.80,76.17 L693.30,76.04 L693.80,75.90 L694.30,75.77 L694.80,75.63 L695.30,75.48 L695.80,75.34 L696.30,75.20" stroke="#1a1a1a"/>
<path d="M552.00,165.00 L552.50,163.57 L553.00,162.16 L553.50,160.76 L554.00,159.38 L554.50,158.02 L555.00,156.67 L555.50,155.34 L556.00,154.02 L556.50,152.72 L557.00,151.43 L557.50,150.16 L558.00,148.91 L558.50,147.67 L559.00,146.44 L559.50,145.25 L560.00,144.10 L560.50,143.00 L561.00,141.92 L561.50,140.86 L562.00,139.80 L562.50,138.73 L563.00,137.64 L563.50,136.51 L564.00,135.34 L564.50,134.11 L565.00,132.81 L565.50,131.43 L566.00,129.99 L566.50,128.49 L567.00,126.95 L567.50,125.39 L568.00,123.81 L568.50,122.23 L569.00,120.66 L569.50,119.11 L570.00,117.60 L570.50,116.10 L571.00,114.61 L571.50,113.12 L572.00,111.63 L572.50,110.14 L573.00,108.64 L573.50,107.14 L574.00,105.64 L574.50,104.12 L575.00,102.59 L575.50,100.98 L576.00,99.29 L576.50,97.57 L577.00,95.86 L577.50,94.21 L578.00,92.67 L578.50,91.29 L579.00,90.10 L579.50,89.07 L580.00,88.11 L580.50,87.22 L581.00,86.38 L581.50,85.60 L582.00,84.84 L582.50,84.12 L583.00,83.42 L583.50,82.72 L584.00,82.03 L584.50,81.33 L585.00,80.61 L585.50,79.91 L586.00,79.24 L586.50,78.58 L587.00,77.93 L587.50,77.29 L588.00,76.65 L588.50,76.01 L589.00,75.37 L589.50,74.72 L590.00,74.06 L590.50,73.38 L591.00,72.68 L591.50,72.00 L592.00,71.32 L592.50,70.64 L593.00,69.96 L593.50,69.27 L594.00,68.56 L594.50,67.83 L595.00,67.07 L595.50,66.28 L596.00,65.45 L596.50,64.57 L597.00,63.63 L597.50,62.61 L598.00,61.51 L598.50,60.35 L599.00,59.13 L599.50,57.87 L600.00,56.59 L600.50,55.28 L601.00,53.97 L601.50,52.66 L602.00,51.32 L602.50,49.85 L603.00,48.31 L603.50,46.73 L604.00,45.14 L604.50,43.60 L605.00,42.13 L605.50,40.78 L606.00,39.59 L606.50,38.60 L607.00,37.71 L607.50,36.82 L608.00,35.94 L608.50,35.09 L609.00,34.28 L609.50,33.53 L610.00,32.86 L610.50,32.28 L611.00,31.81 L611.50,31.46 L612.00,31.25 L612.50,31.20 L613.00,31.25 L613.50,31.37 L614.00,31.54 L614.50,31.77 L615.00,32.04 L615.50,32.35 L616.00,32.70 L616.50,33.07 L617.00,33.46 L617.50,33.88 L618.00,34.47 L618.50,35.21 L619.00,36.07 L619.50,36.98 L620.00,37.90 L620.50,38.85 L621.00,39.89 L621.50,40.99 L622.00,42.15 L622.50,43.35 L623.00,44.59 L623.50,45.85 L624.00,47.11 L624.50,48.37 L625.00,49.60 L625.50,50.81 L626.00,51.97 L626.50,53.07 L627.00,54.11 L627.50,55.14 L628.00,56.17 L628.50,57.20 L629.00,58.21 L629.50,59.21 L630.00,60.19 L630.50,61.15 L631.00,62.07 L631.50,62.96 L632.00,63.81 L632.50,64.62 L633.00,65.37 L633.50,66.07 L634.00,66.72 L634.50,67.37 L635.00,68.01 L635.50,68.64 L636.00,69.25 L636.50,69.85 L637.00,70.43 L637.50,71.00 L638.00,71.54 L638.50,72.06 L639.00,72.55 L639.50,73.02 L640.00,73.46 L640.50,73.87 L641.00,74.24 L641.50,74.58 L642.00,74.89 L642.50,75.15 L643.00,75.39 L643.50,75.62 L644.00,75.86 L644.50,76.08 L645.00,76.30 L645.50,76.52 L646.00,76.72 L646.50,76.92 L647.00,77.10 L647.50,77.27 L648.00,77.42 L648.50,77.56 L649.00,77.69 L649.50,77.79 L650.00,77.88 L650.50,77.94 L651.00,77.98 L651.50,78.00 L652.00,78.00 L652.50,77.98 L653.00,77.95 L653.50,77.91 L654.00,77.86 L654.50,77.80 L655.00,77.73 L655.50,77.66 L656.00,77.58 L656.50,77.50 L657.00,77.41 L657.50,77.32 L658.00,77.22 L658.50,77.13 L659.00,77.04 L659.50,76.95 L660.00,76.86 L660.50,76.77 L661.00,76.69 L661.50,76.61 L662.00,76.54 L662.50,76.47 L663.00,76.42 L663.50,76.37 L664.00,76.34 L664.50,76.31 L665.00,76.30 L665.50,76.30 L666.00,76.30 L666.50,76.31 L667.00,76.32 L667.50,76.34 L668.00,76.35 L668.50,76.37 L669.00,76.39 L669.50,76.41 L670.00,76.44 L670.50,76.47 L671.00,76.50 L671.50,76.53 L672.00,76.56 L672.50,76.60 L673.00,76.63 L673.50,76.67 L674.00,76.71 L674.50,76.74 L675.00,76.78 L675.50,76.82 L676.00,76.86 L676.50,76.90 L677.00,76.95 L677.50,77.00 L678.00,77.07 L678.50,77.15 L679.00,77.23 L679.50,77.32 L680.00,77.42 L680.50,77.52 L681.00,77.62 L681.50,77.73 L682.00,77.83 L682.50,77.93 L683.00,78.03 L683.50,78.13 L684.00,78.22 L684.50,78.30 L685.00,78.38 L685.50,78.45 L686.00,78.50 L686.50,78.55 L687.00,78.58 L687.50,78.60 L688.00,78.60 L688.50,78.54 L689.00,78.44 L689.50,78.29 L690.00,78.08 L690.50,77.84 L691.00,77.55 L691.50,77.23 L692.00,76.87 L692.50,76.49 L693.00,76.07 L693.50,75.64 L694.00,75.18 L694.50,74.70 L695.00,74.21 L695.50,73.71 L696.00,73.21 L696.30,72.90" stroke="#ff1a1a"/>
<path d="M535.30,106.30 L535.80,106.56 L536.30,106.83 L536.80,107.11 L537.30,107.40 L537.80,107.70 L538.30,108.01 L538.80,108.33 L539.30,108.66 L539.80,109.00 L540.30,109.35 L540.80,109.70 L541.30,110.08 L541.80,110.49 L542.30,110.92 L542.80,111.38 L543.30,111.84 L543.80,112.31 L544.30,112.78 L544.80,113.23 L545.30,113.67 L545.80,114.08 L546.30,114.46 L546.80,114.80 L547.30,115.12 L547.80,115.46 L548.30,115.80 L548.80,116.14 L549.30,116.47 L549.80,116.79 L550.30,117.10 L550.80,117.37 L551.30,117.62 L551.80,117.83 L552.30,118.00 L552.80,118.12 L553.30,118.19 L553.80,118.19 L554.30,118.13 L554.80,118.00 L555.30,117.82 L555.80,117.59 L556.30,117.32 L556.80,117.02 L557.30,116.69 L557.80,116.34 L558.30,115.99 L558.80,115.63 L559.30,115.20 L559.80,114.69 L560.30,114.10 L560.80,113.45 L561.30,112.75 L561.80,112.01 L562.30,111.24 L562.80,110.46 L563.30,109.68 L563.80,108.90 L564.30,108.11 L564.80,107.29 L565.30,106.42 L565.80,105.54 L566.30,104.62 L566.80,103.69 L567.30,102.75 L567.80,101.79 L568.30,100.84 L568.80,99.88 L569.30,98.93 L569.80,97.98 L570.30,97.02 L570.80,96.06 L571.30,95.09 L571.80,94.10 L572.30,93.09 L572.80,92.07 L573.30,91.03 L573.80,89.96 L574.30,88.85 L574.80,87.64 L575.30,86.33 L575.80,84.96 L576.30,83.56 L576.80,82.15 L577.30,80.75 L577.80,79.42 L578.30,78.16 L578.80,77.00 L579.30,75.99 L579.80,75.15 L580.30,74.46 L580.80,73.84 L581.30,73.29 L581.80,72.79 L582.30,72.32 L582.80,71.88 L583.30,71.46 L583.80,71.03 L584.30,70.59 L584.80,70.14 L585.30,69.64 L585.80,69.10 L586.30,68.52 L586.80,67.94 L587.30,67.33 L587.80,66.71 L588.30,66.08 L588.80,65.43 L589.30,64.76 L589.80,64.08 L590.30,63.38 L590.80,62.65 L591.30,61.91 L591.80,61.15 L592.30,60.36 L592.80,59.54 L593.30,58.70 L593.80,57.84 L594.30,56.94 L594.80,56.02 L595.30,55.08 L595.80,54.11 L596.30,53.11 L596.80,52.09 L597.30,51.04 L597.80,49.96 L598.30,48.78 L598.80,47.51 L599.30,46.18 L599.80,44.80 L600.30,43.42 L600.80,42.04 L601.30,40.71 L601.80,39.44 L602.30,38.26 L602.80,37.18 L603.30,36.11 L603.80,35.05 L604.30,34.01 L604.80,33.00 L605.30,32.04 L605.80,31.14 L606.30,30.33 L606.80,29.61 L607.30,29.01 L607.80,28.50 L608.30,28.01 L608.80,27.54 L609.30,27.09 L609.80,26.68 L610.30,26.34 L610.80,26.07 L611.30,25.88 L611.80,25.80 L612.30,25.84 L612.80,25.99 L613.30,26.23 L613.80,26.55 L614.30,26.94 L614.80,27.37 L615.30,27.83 L615.80,28.32 L616.30,28.80 L616.80,29.34 L617.30,29.97 L617.80,30.70 L618.30,31.50 L618.80,32.35 L619.30,33.23 L619.80,34.14 L620.30,35.06 L620.80,36.06 L621.30,37.12 L621.80,38.25 L622.30,39.42 L622.80,40.63 L623.30,41.87 L623.80,43.12 L624.30,44.37 L624.80,45.62 L625.30,46.84 L625.80,48.04 L626.30,49.20 L626.80,50.30 L627.30,51.38 L627.80,52.48 L628.30,53.57 L628.80,54.67 L629.30,55.76 L629.80,56.84 L630.30,57.89 L630.80,58.92 L631.30,59.92 L631.80,60.87 L632.30,61.78 L632.80,62.65 L633.30,63.45 L633.80,64.19 L634.30,64.92 L634.80,65.64 L635.30,66.35 L635.80,67.04 L636.30,67.72 L636.80,68.38 L637.30,69.03 L637.80,69.65 L638.30,70.25 L638.80,70.82 L639.30,71.36 L639.80,71.88 L640.30,72.36 L640.80,72.81 L641.30,73.22 L641.80,73.59 L642.30,73.92 L642.80,74.21 L643.30,74.49 L643.80,74.76 L644.30,75.02 L644.80,75.27 L645.30,75.51 L645.80,75.73 L646.30,75.95 L646.80,76.16 L647.30,76.36 L647.80,76.54 L648.30,76.71 L648.80,76.87 L649.30,77.02 L649.80,77.15 L650.30,77.27 L650.80,77.37 L651.30,77.46 L651.80,77.53 L652.30,77.59 L652.80,77.65 L653.30,77.71 L653.80,77.76 L654.30,77.81 L654.80,77.86 L655.30,77.90 L655.80,77.94 L656.30,77.98 L656.80,78.01 L657.30,78.04 L657.80,78.08 L658.30,78.11 L658.80,78.14 L659.30,78.17 L659.80,78.20 L660.30,78.23 L660.80,78.26 L661.30,78.29 L661.80,78.32 L662.30,78.36 L662.80,78.39 L663.30,78.43 L663.80,78.47 L664.30,78.51 L664.80,78.56 L665.30,78.61 L665.80,78.67 L666.30,78.73 L666.80,78.79 L667.30,78.87 L667.80,78.94 L668.30,79.02 L668.80,79.11 L669.30,79.20 L669.80,79.29 L670.30,79.38 L670.80,79.47 L671.30,79.56 L671.80,79.66 L672.30,79.75 L672.80,79.85 L673.30,79.94 L673.80,80.03 L674.30,80.12 L674.80,80.20 L675.30,80.28 L675.80,80.36 L676.30,80.43 L676.80,80.50 L677.30,80.56 L677.80,80.62 L678.30,80.67 L678.80,80.71 L679.30,80.75 L679.80,80.77 L680.30,80.79 L680.80,80.80 L681.30,80.80 L681.80,80.79 L682.30,80.78 L682.80,80.76 L683.30,80.73 L683.80,80.70 L684.30,80.66 L684.80,80.61 L685.30,80.56 L685.80,80.50 L686.30,80.43 L686.80,80.36 L687.30,80.29 L687.80,80.21 L688.30,80.12 L688.80,80.02 L689.30,79.93 L689.80,79.82 L690.30,79.71 L690.80,79.60 L691.30,79.48 L691.80,79.35 L692.30,79.22 L692.80,79.08 L693.30,78.94 L693.80,78.80 L694.30,78.65 L694.80,78.49 L695.30,78.33 L695.80,78.17 L696.30,78.00" stroke="#1a1aff"/>
</g>
<rect x="535.6" y="9.5" width="160.80" height="136.70" fill="none" stroke="#bdbdbd" stroke-width="1.2"/>
<line x1="585.9" y1="101.5" x2="597.8" y2="101.5" stroke="#1a1a1a" stroke-width="2.0"/>
<text transform="translate(602.90,104.00) scale(0.9,1)" font-size="7"  textLength="48.89" lengthAdjust="spacing" fill="#222" stroke="#222" stroke-width="0.12">PEI-Max 30 µL</text>
<line x1="585.9" y1="110.0" x2="597.8" y2="110.0" stroke="#ff1a1a" stroke-width="2.0"/>
<text transform="translate(602.90,112.50) scale(0.9,1)" font-size="7"  textLength="88.89" lengthAdjust="spacing" fill="#222" stroke="#222" stroke-width="0.12">Lipofectamine 3000 30 µL</text>
<line x1="585.9" y1="118.5" x2="597.8" y2="118.5" stroke="#1a1aff" stroke-width="2.0"/>
<text transform="translate(602.90,121.00) scale(0.9,1)" font-size="7"  textLength="88.89" lengthAdjust="spacing" fill="#222" stroke="#222" stroke-width="0.12">Lipofectamine 3000 60 µL</text>
<text transform="translate(524.80,15.80) scale(0.9,1)" font-size="14.2" text-anchor="end" textLength="29.78" lengthAdjust="spacing" fill="#111" stroke="#111" stroke-width="0.35">0.02</text>
<text transform="translate(524.80,83.60) scale(0.9,1)" font-size="14.2" text-anchor="end" textLength="8.11" lengthAdjust="spacing" fill="#111" stroke="#111" stroke-width="0.35">0</text>
<text transform="translate(524.80,151.40) scale(0.9,1)" font-size="14.2" text-anchor="end" textLength="35.22" lengthAdjust="spacing" fill="#111" stroke="#111" stroke-width="0.35">-0.02</text>
<text transform="translate(531.30,166.00) scale(0.9,1)" font-size="13.6" text-anchor="middle" textLength="25.78" lengthAdjust="spacing" fill="#111" stroke="#111" stroke-width="0.35">400</text>
<text transform="translate(613.80,166.00) scale(0.9,1)" font-size="13.6" text-anchor="middle" textLength="25.78" lengthAdjust="spacing" fill="#111" stroke="#111" stroke-width="0.35">450</text>
<text transform="translate(696.50,166.00) scale(0.9,1)" font-size="13.6" text-anchor="middle" textLength="25.78" lengthAdjust="spacing" fill="#111" stroke="#111" stroke-width="0.35">500</text>
<text transform="translate(613.80,184.00) scale(0.9,1)" font-size="15" text-anchor="middle" textLength="121.56" lengthAdjust="spacing" fill="#111" stroke="#111" stroke-width="0.35">Wavelength (nm)</text>
<text transform="translate(488.50,73.80) rotate(-90) scale(0.9,1)" font-size="15.5" text-anchor="middle" textLength="84.22" lengthAdjust="spacing" fill="#111" stroke="#111" stroke-width="0.35">Absorbance</text>
<line x1="207.8" y1="210.6" x2="515.9" y2="210.6" stroke="#c9c9c9" stroke-width="1"/>
<line x1="207.8" y1="242.5" x2="515.9" y2="242.5" stroke="#c9c9c9" stroke-width="1"/>
<line x1="207.8" y1="275.3" x2="515.9" y2="275.3" stroke="#c9c9c9" stroke-width="1"/>
<rect x="273.16" y="285.30" width="9" height="21.90" fill="#000"/>
<line x1="277.66" y1="284.30" x2="277.66" y2="285.30" stroke="#000" stroke-width="0.9"/>
<line x1="276.46" y1="284.30" x2="278.86" y2="284.30" stroke="#000" stroke-width="0.8"/>
<rect x="301.14" y="223.80" width="9" height="83.40" fill="#000"/>
<line x1="305.64" y1="222.60" x2="305.64" y2="223.80" stroke="#000" stroke-width="0.9"/>
<line x1="304.44" y1="222.60" x2="306.84" y2="222.60" stroke="#000" stroke-width="0.8"/>
<rect x="329.12" y="228.00" width="9" height="79.20" fill="#000"/>
<line x1="333.62" y1="227.00" x2="333.62" y2="228.00" stroke="#000" stroke-width="0.9"/>
<line x1="332.42" y1="227.00" x2="334.82" y2="227.00" stroke="#000" stroke-width="0.8"/>
<rect x="357.10" y="268.90" width="9" height="38.30" fill="#000"/>
<line x1="361.60" y1="267.50" x2="361.60" y2="268.90" stroke="#000" stroke-width="0.9"/>
<line x1="360.40" y1="267.50" x2="362.80" y2="267.50" stroke="#000" stroke-width="0.8"/>
<rect x="385.08" y="265.10" width="9" height="42.10" fill="#000"/>
<line x1="389.58" y1="263.20" x2="389.58" y2="265.10" stroke="#000" stroke-width="0.9"/>
<line x1="388.38" y1="263.20" x2="390.78" y2="263.20" stroke="#000" stroke-width="0.8"/>
<rect x="413.06" y="249.70" width="9" height="57.50" fill="#000"/>
<line x1="417.56" y1="248.50" x2="417.56" y2="249.70" stroke="#000" stroke-width="0.9"/>
<line x1="416.36" y1="248.50" x2="418.76" y2="248.50" stroke="#000" stroke-width="0.8"/>
<rect x="441.04" y="263.20" width="9" height="44.00" fill="#000"/>
<line x1="445.54" y1="260.50" x2="445.54" y2="263.20" stroke="#000" stroke-width="0.9"/>
<line x1="444.34" y1="260.50" x2="446.74" y2="260.50" stroke="#000" stroke-width="0.8"/>
<rect x="469.02" y="231.20" width="9" height="76.00" fill="#000"/>
<line x1="473.52" y1="230.00" x2="473.52" y2="231.20" stroke="#000" stroke-width="0.9"/>
<line x1="472.32" y1="230.00" x2="474.72" y2="230.00" stroke="#000" stroke-width="0.8"/>
<rect x="497.00" y="226.60" width="9" height="80.60" fill="#000"/>
<line x1="501.50" y1="225.50" x2="501.50" y2="226.60" stroke="#000" stroke-width="0.9"/>
<line x1="500.30" y1="225.50" x2="502.70" y2="225.50" stroke="#000" stroke-width="0.8"/>
<path d="M207.8,201.8 L207.8,307.2 L519.3,307.2" fill="none" stroke="#505050" stroke-width="1.1"/>
<text transform="translate(197.10,214.20) scale(0.9,1)" font-size="10" text-anchor="end" textLength="18.22" lengthAdjust="spacing" fill="#222" stroke="#222" stroke-width="0.25">150</text>
<text transform="translate(197.10,246.20) scale(0.9,1)" font-size="10" text-anchor="end" textLength="18.22" lengthAdjust="spacing" fill="#222" stroke="#222" stroke-width="0.25">100</text>
<text transform="translate(197.10,279.00) scale(0.9,1)" font-size="10" text-anchor="end" textLength="12.11" lengthAdjust="spacing" fill="#222" stroke="#222" stroke-width="0.25">50</text>
<text transform="translate(197.10,311.20) scale(0.9,1)" font-size="10" text-anchor="end" textLength="6.11" lengthAdjust="spacing" fill="#222" stroke="#222" stroke-width="0.25">0</text>
<text transform="translate(157.00,255.20) rotate(-90) scale(0.9,1)" font-size="10.7" text-anchor="middle" textLength="60.33" lengthAdjust="spacing" fill="#222" stroke="#222" stroke-width="0.25">CYP content</text>
<text transform="translate(169.30,255.20) rotate(-90) scale(0.9,1)" font-size="10.2" text-anchor="middle" textLength="92.33" lengthAdjust="spacing" fill="#222" stroke="#222" stroke-width="0.25">(pmol/mg protein)</text>
<text transform="translate(224.20,295.80) scale(0.9,1)" font-size="10"  textLength="20.44" lengthAdjust="spacing" fill="#222" stroke="#222" stroke-width="0.25">N.D.</text>
<line x1="218.8" y1="299.5" x2="247.1" y2="299.5" stroke="#8a8a8a" stroke-width="1.4"/>
<text transform="translate(82.90,328.60) scale(0.9,1)" font-size="10.7"  textLength="90.44" lengthAdjust="spacing" fill="#222" stroke="#222" stroke-width="0.25">Condition number</text>
<text transform="translate(82.90,344.90) scale(0.9,1)" font-size="10.7"  textLength="61.56" lengthAdjust="spacing" fill="#222" stroke="#222" stroke-width="0.25">Plasmid (µg)</text>
<text transform="translate(82.90,360.80) scale(0.9,1)" font-size="10.7"  textLength="126.78" lengthAdjust="spacing" fill="#222" stroke="#222" stroke-width="0.25">Transfection Reagent (µL)</text>
<text transform="translate(218.90,328.60) scale(0.9,1)" font-size="10.7" text-anchor="middle" textLength="5.78" lengthAdjust="spacing" fill="#222" stroke="#222" stroke-width="0.25">1</text>
<text transform="translate(247.14,328.60) scale(0.9,1)" font-size="10.7" text-anchor="middle" textLength="5.78" lengthAdjust="spacing" fill="#222" stroke="#222" stroke-width="0.25">2</text>
<text transform="translate(275.38,328.60) scale(0.9,1)" font-size="10.7" text-anchor="middle" textLength="5.78" lengthAdjust="spacing" fill="#222" stroke="#222" stroke-width="0.25">3</text>
<text transform="translate(303.62,328.60) scale(0.9,1)" font-size="10.7" text-anchor="middle" textLength="5.78" lengthAdjust="spacing" fill="#222" stroke="#222" stroke-width="0.25">4</text>
<text transform="translate(331.86,328.60) scale(0.9,1)" font-size="10.7" text-anchor="middle" textLength="5.78" lengthAdjust="spacing" fill="#222" stroke="#222" stroke-width="0.25">5</text>
<text transform="translate(360.10,328.60) scale(0.9,1)" font-size="10.7" text-anchor="middle" textLength="5.78" lengthAdjust="spacing" fill="#222" stroke="#222" stroke-width="0.25">6</text>
<text transform="translate(388.34,328.60) scale(0.9,1)" font-size="10.7" text-anchor="middle" textLength="5.78" lengthAdjust="spacing" fill="#222" stroke="#222" stroke-width="0.25">7</text>
<text transform="translate(416.58,328.60) scale(0.9,1)" font-size="10.7" text-anchor="middle" textLength="5.78" lengthAdjust="spacing" fill="#222" stroke="#222" stroke-width="0.25">8</text>
<text transform="translate(444.82,328.60) scale(0.9,1)" font-size="10.7" text-anchor="middle" textLength="5.78" lengthAdjust="spacing" fill="#222" stroke="#222" stroke-width="0.25">9</text>
<text transform="translate(473.06,328.60) scale(0.9,1)" font-size="10.7" text-anchor="middle" textLength="11.56" lengthAdjust="spacing" fill="#222" stroke="#222" stroke-width="0.25">10</text>
<text transform="translate(501.30,328.60) scale(0.9,1)" font-size="10.7" text-anchor="middle" textLength="11.56" lengthAdjust="spacing" fill="#222" stroke="#222" stroke-width="0.25">11</text>
<text transform="translate(218.90,344.90) scale(0.9,1)" font-size="10.7" text-anchor="middle" textLength="5.78" lengthAdjust="spacing" fill="#222" stroke="#222" stroke-width="0.25">0</text>
<text transform="translate(247.14,344.90) scale(0.9,1)" font-size="10.7" text-anchor="middle" textLength="5.78" lengthAdjust="spacing" fill="#222" stroke="#222" stroke-width="0.25">5</text>
<text transform="translate(275.38,344.90) scale(0.9,1)" font-size="10.7" text-anchor="middle" textLength="5.78" lengthAdjust="spacing" fill="#222" stroke="#222" stroke-width="0.25">7</text>
<text transform="translate(303.62,344.90) scale(0.9,1)" font-size="10.7" text-anchor="middle" textLength="11.56" lengthAdjust="spacing" fill="#222" stroke="#222" stroke-width="0.25">10</text>
<text transform="translate(331.86,344.90) scale(0.9,1)" font-size="10.7" text-anchor="middle" textLength="11.56" lengthAdjust="spacing" fill="#222" stroke="#222" stroke-width="0.25">15</text>
<text transform="translate(360.10,344.90) scale(0.9,1)" font-size="10.7" text-anchor="middle" textLength="5.78" lengthAdjust="spacing" fill="#222" stroke="#222" stroke-width="0.25">5</text>
<text transform="translate(388.34,344.90) scale(0.9,1)" font-size="10.7" text-anchor="middle" textLength="5.78" lengthAdjust="spacing" fill="#222" stroke="#222" stroke-width="0.25">7</text>
<text transform="translate(416.58,344.90) scale(0.9,1)" font-size="10.7" text-anchor="middle" textLength="11.56" lengthAdjust="spacing" fill="#222" stroke="#222" stroke-width="0.25">10</text>
<text transform="translate(444.82,344.90) scale(0.9,1)" font-size="10.7" text-anchor="middle" textLength="11.56" lengthAdjust="spacing" fill="#222" stroke="#222" stroke-width="0.25">20</text>
<text transform="translate(473.06,344.90) scale(0.9,1)" font-size="10.7" text-anchor="middle" textLength="11.56" lengthAdjust="spacing" fill="#222" stroke="#222" stroke-width="0.25">20</text>
<text transform="translate(501.30,344.90) scale(0.9,1)" font-size="10.7" text-anchor="middle" textLength="11.56" lengthAdjust="spacing" fill="#222" stroke="#222" stroke-width="0.25">20</text>
<text transform="translate(218.90,360.80) scale(0.9,1)" font-size="10.7" text-anchor="middle" textLength="5.78" lengthAdjust="spacing" fill="#222" stroke="#222" stroke-width="0.25">0</text>
<text transform="translate(247.14,360.80) scale(0.9,1)" font-size="10.7" text-anchor="middle" textLength="11.56" lengthAdjust="spacing" fill="#222" stroke="#222" stroke-width="0.25">15</text>
<text transform="translate(275.38,360.80) scale(0.9,1)" font-size="10.7" text-anchor="middle" textLength="11.56" lengthAdjust="spacing" fill="#222" stroke="#222" stroke-width="0.25">20</text>
<text transform="translate(303.62,360.80) scale(0.9,1)" font-size="10.7" text-anchor="middle" textLength="11.56" lengthAdjust="spacing" fill="#222" stroke="#222" stroke-width="0.25">30</text>
<text transform="translate(331.86,360.80) scale(0.9,1)" font-size="10.7" text-anchor="middle" textLength="11.56" lengthAdjust="spacing" fill="#222" stroke="#222" stroke-width="0.25">45</text>
<text transform="translate(360.10,360.80) scale(0.9,1)" font-size="10.7" text-anchor="middle" textLength="11.56" lengthAdjust="spacing" fill="#222" stroke="#222" stroke-width="0.25">15</text>
<text transform="translate(388.34,360.80) scale(0.9,1)" font-size="10.7" text-anchor="middle" textLength="11.56" lengthAdjust="spacing" fill="#222" stroke="#222" stroke-width="0.25">20</text>
<text transform="translate(416.58,360.80) scale(0.9,1)" font-size="10.7" text-anchor="middle" textLength="11.56" lengthAdjust="spacing" fill="#222" stroke="#222" stroke-width="0.25">30</text>
<text transform="translate(444.82,360.80) scale(0.9,1)" font-size="10.7" text-anchor="middle" textLength="11.56" lengthAdjust="spacing" fill="#222" stroke="#222" stroke-width="0.25">60</text>
<text transform="translate(473.06,360.80) scale(0.9,1)" font-size="10.7" text-anchor="middle" textLength="11.56" lengthAdjust="spacing" fill="#222" stroke="#222" stroke-width="0.25">30</text>
<text transform="translate(501.30,360.80) scale(0.9,1)" font-size="10.7" text-anchor="middle" textLength="11.56" lengthAdjust="spacing" fill="#222" stroke="#222" stroke-width="0.25">60</text>
<line x1="247.5" y1="367.1" x2="332.2" y2="367.1" stroke="#444" stroke-width="1"/>
<line x1="360.1" y1="367.1" x2="444.7" y2="367.1" stroke="#444" stroke-width="1"/>
<line x1="473.4" y1="367.1" x2="501.3" y2="367.1" stroke="#444" stroke-width="1"/>
<text transform="translate(272.30,385.00) scale(0.9,1)" font-size="10.7"  textLength="40.22" lengthAdjust="spacing" fill="#222" stroke="#222" stroke-width="0.25">PEI-Max</text>
<text transform="translate(377.60,385.00) scale(0.9,1)" font-size="10.7"  textLength="55.11" lengthAdjust="spacing" fill="#222" stroke="#222" stroke-width="0.25">TransFectin</text>
<text transform="translate(455.40,385.00) scale(0.9,1)" font-size="10.7"  textLength="70.11" lengthAdjust="spacing" fill="#222" stroke="#222" stroke-width="0.25">Lipofectamine</text>
<text transform="translate(475.50,398.60) scale(0.9,1)" font-size="10.7"  textLength="25.33" lengthAdjust="spacing" fill="#222" stroke="#222" stroke-width="0.25">3000</text>
<text transform="translate(0.80,464.60) scale(0.9,1)" font-size="19"  textLength="11.11" lengthAdjust="spacing" fill="#000" stroke="#000" stroke-width="0.45">B</text>
<text transform="translate(92.70,460.30) scale(0.9,1)" font-size="10.7"  textLength="89.89" lengthAdjust="spacing" fill="#222" stroke="#222" stroke-width="0.25">Condition number</text>
<text transform="translate(219.60,460.30) scale(0.9,1)" font-size="10.7" text-anchor="middle" textLength="5.78" lengthAdjust="spacing" fill="#222" stroke="#222" stroke-width="0.25">1</text>
<text transform="translate(247.36,460.30) scale(0.9,1)" font-size="10.7" text-anchor="middle" textLength="5.78" lengthAdjust="spacing" fill="#222" stroke="#222" stroke-width="0.25">2</text>
<text transform="translate(275.12,460.30) scale(0.9,1)" font-size="10.7" text-anchor="middle" textLength="5.78" lengthAdjust="spacing" fill="#222" stroke="#222" stroke-width="0.25">3</text>
<text transform="translate(302.88,460.30) scale(0.9,1)" font-size="10.7" text-anchor="middle" textLength="5.78" lengthAdjust="spacing" fill="#222" stroke="#222" stroke-width="0.25">4</text>
<text transform="translate(330.64,460.30) scale(0.9,1)" font-size="10.7" text-anchor="middle" textLength="5.78" lengthAdjust="spacing" fill="#222" stroke="#222" stroke-width="0.25">5</text>
<text transform="translate(358.40,460.30) scale(0.9,1)" font-size="10.7" text-anchor="middle" textLength="5.78" lengthAdjust="spacing" fill="#222" stroke="#222" stroke-width="0.25">6</text>
<text transform="translate(386.16,460.30) scale(0.9,1)" font-size="10.7" text-anchor="middle" textLength="5.78" lengthAdjust="spacing" fill="#222" stroke="#222" stroke-width="0.25">7</text>
<text transform="translate(413.92,460.30) scale(0.9,1)" font-size="10.7" text-anchor="middle" textLength="5.78" lengthAdjust="spacing" fill="#222" stroke="#222" stroke-width="0.25">8</text>
<text transform="translate(441.68,460.30) scale(0.9,1)" font-size="10.7" text-anchor="middle" textLength="5.78" lengthAdjust="spacing" fill="#222" stroke="#222" stroke-width="0.25">9</text>
<text transform="translate(469.44,460.30) scale(0.9,1)" font-size="10.7" text-anchor="middle" textLength="11.56" lengthAdjust="spacing" fill="#222" stroke="#222" stroke-width="0.25">10</text>
<text transform="translate(497.20,460.30) scale(0.9,1)" font-size="10.7" text-anchor="middle" textLength="11.56" lengthAdjust="spacing" fill="#222" stroke="#222" stroke-width="0.25">11</text>
<text transform="translate(175.30,494.70) scale(0.9,1)" font-size="10.7" text-anchor="end" textLength="40.89" lengthAdjust="spacing" fill="#222" stroke="#222" stroke-width="0.25">Calnexin</text>
<text transform="translate(173.60,530.30) scale(0.9,1)" font-size="10.7" text-anchor="end" textLength="37.56" lengthAdjust="spacing" fill="#222" stroke="#222" stroke-width="0.25">CYP3A4</text>
<rect x="202.8" y="470.9" width="312.50" height="75.40" fill="#fbfbfb"/>
<linearGradient id="gup" x1="0" y1="0" x2="0" y2="1"><stop offset="0" stop-color="#f4f4f4"/><stop offset="0.45" stop-color="#e6e6e6"/><stop offset="0.75" stop-color="#ececec"/><stop offset="1" stop-color="#f6f6f6"/></linearGradient>
<rect x="205.8" y="475.5" width="306.50" height="30" fill="url(#gup)"/>
<rect x="205.8" y="511" width="306.50" height="31" fill="#f7f7f7"/>
<g filter="url(#blur2)">
<rect x="264.00" y="513" width="26" height="28" fill="#ebebeb" opacity="0.3"/>
<rect x="292.20" y="513" width="26" height="28" fill="#ebebeb" opacity="0.6"/>
<rect x="320.20" y="513" width="26" height="28" fill="#ebebeb" opacity="0.6"/>
<rect x="402.30" y="513" width="26" height="28" fill="#ebebeb" opacity="0.25"/>
<rect x="457.60" y="513" width="26" height="28" fill="#ebebeb" opacity="0.6"/>
<rect x="485.50" y="513" width="26" height="28" fill="#ebebeb" opacity="0.5"/>
</g>
<g filter="url(#blur1)">
<rect x="206.10" y="487.30" width="26.4" height="8.0" rx="3.4" fill="#000" transform="rotate(0.00,219.30,491.30)"/>
<rect x="235.00" y="487.50" width="26.4" height="8.0" rx="3.4" fill="#000" transform="rotate(0.00,248.20,491.50)"/>
<rect x="263.80" y="487.60" width="26.4" height="8.0" rx="3.4" fill="#000" transform="rotate(0.00,277.00,491.60)"/>
<rect x="292.00" y="487.60" width="26.4" height="8.0" rx="3.4" fill="#000" transform="rotate(0.00,305.20,491.60)"/>
<rect x="320.00" y="487.60" width="26.4" height="8.0" rx="3.4" fill="#000" transform="rotate(0.00,333.20,491.60)"/>
<rect x="347.10" y="487.60" width="26.4" height="8.0" rx="3.4" fill="#000" transform="rotate(0.00,360.30,491.60)"/>
<rect x="374.70" y="487.60" width="26.4" height="8.0" rx="3.4" fill="#000" transform="rotate(0.00,387.90,491.60)"/>
<rect x="402.10" y="487.80" width="26.4" height="8.0" rx="3.4" fill="#000" transform="rotate(0.00,415.30,491.80)"/>
<rect x="429.50" y="487.80" width="26.4" height="7.2" rx="3.4" fill="#000" transform="rotate(-1.32,442.70,491.40)"/>
<rect x="457.40" y="486.60" width="26.4" height="8.0" rx="3.4" fill="#000" transform="rotate(-2.64,470.60,490.60)"/>
<rect x="485.30" y="485.50" width="26.4" height="8.0" rx="3.4" fill="#000" transform="rotate(-1.10,498.50,489.50)"/>
</g>
<g filter="url(#blur1)">
<rect x="235.60" y="526.10" width="25.2" height="3.0" rx="1.50" fill="#1e1e1e"/>
<rect x="264.40" y="526.20" width="25.2" height="5.0" rx="2.50" fill="#050505"/>
<rect x="292.60" y="525.40" width="25.2" height="7.0" rx="3.00" fill="#000"/>
<rect x="320.60" y="525.40" width="25.2" height="7.0" rx="3.00" fill="#000"/>
<rect x="347.70" y="527.70" width="25.2" height="3.4" rx="1.70" fill="#222"/>
<rect x="375.30" y="527.90" width="25.2" height="4.0" rx="2.00" fill="#151515"/>
<rect x="402.70" y="528.00" width="25.2" height="5.4" rx="2.70" fill="#000"/>
<rect x="430.10" y="528.00" width="25.2" height="4.4" rx="2.20" fill="#0a0a0a"/>
<rect x="458.00" y="525.50" width="25.2" height="7.6" rx="3.00" fill="#000"/>
<rect x="485.90" y="523.90" width="25.2" height="7.4" rx="3.00" fill="#000"/>
</g>
<g filter="url(#blur2)">
<rect x="265.00" y="536" width="24" height="6" fill="#c4c4c4" opacity="0.35"/>
<rect x="293.20" y="536" width="24" height="6" fill="#c4c4c4" opacity="0.8"/>
<rect x="321.20" y="536" width="24" height="6" fill="#c4c4c4" opacity="0.8"/>
<rect x="458.60" y="536" width="24" height="6" fill="#c4c4c4" opacity="0.7"/>
<rect x="486.50" y="536" width="24" height="6" fill="#c4c4c4" opacity="0.5"/>
</g>
<rect x="204.20000000000002" y="472.34999999999997" width="309.70" height="72.50" fill="none" stroke="#000" stroke-width="2.9"/>
<line x1="203.8" y1="508.5" x2="514.3" y2="508.5" stroke="#000" stroke-width="3"/>
<line x1="205.3" y1="573.3" x2="515.8" y2="573.3" stroke="#c9c9c9" stroke-width="1"/>
<line x1="205.3" y1="605.5" x2="515.8" y2="605.5" stroke="#c9c9c9" stroke-width="1"/>
<line x1="205.3" y1="638.3" x2="515.8" y2="638.3" stroke="#c9c9c9" stroke-width="1"/>
<rect x="243.10" y="652.40" width="9" height="17.90" fill="#000"/>
<line x1="247.60" y1="651.50" x2="247.60" y2="652.40" stroke="#000" stroke-width="0.9"/>
<line x1="246.40" y1="651.50" x2="248.80" y2="651.50" stroke="#000" stroke-width="0.8"/>
<rect x="271.30" y="639.10" width="9" height="31.20" fill="#000"/>
<line x1="275.80" y1="635.10" x2="275.80" y2="639.10" stroke="#000" stroke-width="0.9"/>
<line x1="274.60" y1="635.10" x2="277.00" y2="635.10" stroke="#000" stroke-width="0.8"/>
<rect x="299.50" y="605.50" width="9" height="64.80" fill="#000"/>
<line x1="304.00" y1="605.00" x2="304.00" y2="605.50" stroke="#000" stroke-width="0.9"/>
<line x1="302.80" y1="605.00" x2="305.20" y2="605.00" stroke="#000" stroke-width="0.8"/>
<rect x="327.70" y="603.90" width="9" height="66.40" fill="#000"/>
<line x1="332.20" y1="603.00" x2="332.20" y2="603.90" stroke="#000" stroke-width="0.9"/>
<line x1="331.00" y1="603.00" x2="333.40" y2="603.00" stroke="#000" stroke-width="0.8"/>
<rect x="355.90" y="636.10" width="9" height="34.20" fill="#000"/>
<line x1="360.40" y1="632.20" x2="360.40" y2="636.10" stroke="#000" stroke-width="0.9"/>
<line x1="359.20" y1="632.20" x2="361.60" y2="632.20" stroke="#000" stroke-width="0.8"/>
<rect x="384.10" y="627.80" width="9" height="42.50" fill="#000"/>
<line x1="388.60" y1="624.40" x2="388.60" y2="627.80" stroke="#000" stroke-width="0.9"/>
<line x1="387.40" y1="624.40" x2="389.80" y2="624.40" stroke="#000" stroke-width="0.8"/>
<rect x="412.30" y="618.30" width="9" height="52.00" fill="#000"/>
<line x1="416.80" y1="614.20" x2="416.80" y2="618.30" stroke="#000" stroke-width="0.9"/>
<line x1="415.60" y1="614.20" x2="418.00" y2="614.20" stroke="#000" stroke-width="0.8"/>
<rect x="440.50" y="627.80" width="9" height="42.50" fill="#000"/>
<line x1="445.00" y1="624.40" x2="445.00" y2="627.80" stroke="#000" stroke-width="0.9"/>
<line x1="443.80" y1="624.40" x2="446.20" y2="624.40" stroke="#000" stroke-width="0.8"/>
<rect x="468.70" y="605.60" width="9" height="64.70" fill="#000"/>
<line x1="473.20" y1="599.50" x2="473.20" y2="605.60" stroke="#000" stroke-width="0.9"/>
<line x1="472.00" y1="599.50" x2="474.40" y2="599.50" stroke="#000" stroke-width="0.8"/>
<rect x="496.90" y="604.30" width="9" height="66.00" fill="#000"/>
<line x1="501.40" y1="602.00" x2="501.40" y2="604.30" stroke="#000" stroke-width="0.9"/>
<line x1="500.20" y1="602.00" x2="502.60" y2="602.00" stroke="#000" stroke-width="0.8"/>
<path d="M205.3,564.2 L205.3,670.3 L516.9,670.3" fill="none" stroke="#505050" stroke-width="1.1"/>
<text transform="translate(194.50,577.00) scale(0.9,1)" font-size="10" text-anchor="end" textLength="14.89" lengthAdjust="spacing" fill="#222" stroke="#222" stroke-width="0.25">1.5</text>
<text transform="translate(194.50,609.20) scale(0.9,1)" font-size="10" text-anchor="end" textLength="6.11" lengthAdjust="spacing" fill="#222" stroke="#222" stroke-width="0.25">1</text>
<text transform="translate(194.50,642.00) scale(0.9,1)" font-size="10" text-anchor="end" textLength="14.89" lengthAdjust="spacing" fill="#222" stroke="#222" stroke-width="0.25">0.5</text>
<text transform="translate(194.50,673.80) scale(0.9,1)" font-size="10" text-anchor="end" textLength="6.11" lengthAdjust="spacing" fill="#222" stroke="#222" stroke-width="0.25">0</text>
<text transform="translate(157.00,617.60) rotate(-90) scale(0.9,1)" font-size="10.7" text-anchor="middle" textLength="41.44" lengthAdjust="spacing" fill="#222" stroke="#222" stroke-width="0.25">Intensity</text>
<text transform="translate(169.30,617.60) rotate(-90) scale(0.9,1)" font-size="10.2" text-anchor="middle" textLength="90.33" lengthAdjust="spacing" fill="#222" stroke="#222" stroke-width="0.25">(CYP3A4/Calnexin)</text>
<text transform="translate(209.80,665.20) scale(0.9,1)" font-size="10"  textLength="20.56" lengthAdjust="spacing" fill="#222" stroke="#222" stroke-width="0.25">N.D.</text>
<text transform="translate(82.90,691.60) scale(0.9,1)" font-size="10.7"  textLength="90.44" lengthAdjust="spacing" fill="#222" stroke="#222" stroke-width="0.25">Condition number</text>
<text transform="translate(82.90,707.90) scale(0.9,1)" font-size="10.7"  textLength="61.56" lengthAdjust="spacing" fill="#222" stroke="#222" stroke-width="0.25">Plasmid (µg)</text>
<text transform="translate(82.90,723.80) scale(0.9,1)" font-size="10.7"  textLength="126.78" lengthAdjust="spacing" fill="#222" stroke="#222" stroke-width="0.25">Transfection Reagent (µL)</text>
<text transform="translate(218.90,691.60) scale(0.9,1)" font-size="10.7" text-anchor="middle" textLength="5.78" lengthAdjust="spacing" fill="#222" stroke="#222" stroke-width="0.25">1</text>
<text transform="translate(247.14,691.60) scale(0.9,1)" font-size="10.7" text-anchor="middle" textLength="5.78" lengthAdjust="spacing" fill="#222" stroke="#222" stroke-width="0.25">2</text>
<text transform="translate(275.38,691.60) scale(0.9,1)" font-size="10.7" text-anchor="middle" textLength="5.78" lengthAdjust="spacing" fill="#222" stroke="#222" stroke-width="0.25">3</text>
<text transform="translate(303.62,691.60) scale(0.9,1)" font-size="10.7" text-anchor="middle" textLength="5.78" lengthAdjust="spacing" fill="#222" stroke="#222" stroke-width="0.25">4</text>
<text transform="translate(331.86,691.60) scale(0.9,1)" font-size="10.7" text-anchor="middle" textLength="5.78" lengthAdjust="spacing" fill="#222" stroke="#222" stroke-width="0.25">5</text>
<text transform="translate(360.10,691.60) scale(0.9,1)" font-size="10.7" text-anchor="middle" textLength="5.78" lengthAdjust="spacing" fill="#222" stroke="#222" stroke-width="0.25">6</text>
<text transform="translate(388.34,691.60) scale(0.9,1)" font-size="10.7" text-anchor="middle" textLength="5.78" lengthAdjust="spacing" fill="#222" stroke="#222" stroke-width="0.25">7</text>
<text transform="translate(416.58,691.60) scale(0.9,1)" font-size="10.7" text-anchor="middle" textLength="5.78" lengthAdjust="spacing" fill="#222" stroke="#222" stroke-width="0.25">8</text>
<text transform="translate(444.82,691.60) scale(0.9,1)" font-size="10.7" text-anchor="middle" textLength="5.78" lengthAdjust="spacing" fill="#222" stroke="#222" stroke-width="0.25">9</text>
<text transform="translate(473.06,691.60) scale(0.9,1)" font-size="10.7" text-anchor="middle" textLength="11.56" lengthAdjust="spacing" fill="#222" stroke="#222" stroke-width="0.25">10</text>
<text transform="translate(501.30,691.60) scale(0.9,1)" font-size="10.7" text-anchor="middle" textLength="11.56" lengthAdjust="spacing" fill="#222" stroke="#222" stroke-width="0.25">11</text>
<text transform="translate(218.90,707.90) scale(0.9,1)" font-size="10.7" text-anchor="middle" textLength="5.78" lengthAdjust="spacing" fill="#222" stroke="#222" stroke-width="0.25">0</text>
<text transform="translate(247.14,707.90) scale(0.9,1)" font-size="10.7" text-anchor="middle" textLength="5.78" lengthAdjust="spacing" fill="#222" stroke="#222" stroke-width="0.25">5</text>
<text transform="translate(275.38,707.90) scale(0.9,1)" font-size="10.7" text-anchor="middle" textLength="5.78" lengthAdjust="spacing" fill="#222" stroke="#222" stroke-width="0.25">7</text>
<text transform="translate(303.62,707.90) scale(0.9,1)" font-size="10.7" text-anchor="middle" textLength="11.56" lengthAdjust="spacing" fill="#222" stroke="#222" stroke-width="0.25">10</text>
<text transform="translate(331.86,707.90) scale(0.9,1)" font-size="10.7" text-anchor="middle" textLength="11.56" lengthAdjust="spacing" fill="#222" stroke="#222" stroke-width="0.25">15</text>
<text transform="translate(360.10,707.90) scale(0.9,1)" font-size="10.7" text-anchor="middle" textLength="5.78" lengthAdjust="spacing" fill="#222" stroke="#222" stroke-width="0.25">5</text>
<text transform="translate(388.34,707.90) scale(0.9,1)" font-size="10.7" text-anchor="middle" textLength="5.78" lengthAdjust="spacing" fill="#222" stroke="#222" stroke-width="0.25">7</text>
<text transform="translate(416.58,707.90) scale(0.9,1)" font-size="10.7" text-anchor="middle" textLength="11.56" lengthAdjust="spacing" fill="#222" stroke="#222" stroke-width="0.25">10</text>
<text transform="translate(444.82,707.90) scale(0.9,1)" font-size="10.7" text-anchor="middle" textLength="11.56" lengthAdjust="spacing" fill="#222" stroke="#222" stroke-width="0.25">20</text>
<text transform="translate(473.06,707.90) scale(0.9,1)" font-size="10.7" text-anchor="middle" textLength="11.56" lengthAdjust="spacing" fill="#222" stroke="#222" stroke-width="0.25">20</text>
<text transform="translate(501.30,707.90) scale(0.9,1)" font-size="10.7" text-anchor="middle" textLength="11.56" lengthAdjust="spacing" fill="#222" stroke="#222" stroke-width="0.25">20</text>
<text transform="translate(218.90,723.80) scale(0.9,1)" font-size="10.7" text-anchor="middle" textLength="5.78" lengthAdjust="spacing" fill="#222" stroke="#222" stroke-width="0.25">0</text>
<text transform="translate(247.14,723.80) scale(0.9,1)" font-size="10.7" text-anchor="middle" textLength="11.56" lengthAdjust="spacing" fill="#222" stroke="#222" stroke-width="0.25">15</text>
<text transform="translate(275.38,723.80) scale(0.9,1)" font-size="10.7" text-anchor="middle" textLength="11.56" lengthAdjust="spacing" fill="#222" stroke="#222" stroke-width="0.25">20</text>
<text transform="translate(303.62,723.80) scale(0.9,1)" font-size="10.7" text-anchor="middle" textLength="11.56" lengthAdjust="spacing" fill="#222" stroke="#222" stroke-width="0.25">30</text>
<text transform="translate(331.86,723.80) scale(0.9,1)" font-size="10.7" text-anchor="middle" textLength="11.56" lengthAdjust="spacing" fill="#222" stroke="#222" stroke-width="0.25">45</text>
<text transform="translate(360.10,723.80) scale(0.9,1)" font-size="10.7" text-anchor="middle" textLength="11.56" lengthAdjust="spacing" fill="#222" stroke="#222" stroke-width="0.25">15</text>
<text transform="translate(388.34,723.80) scale(0.9,1)" font-size="10.7" text-anchor="middle" textLength="11.56" lengthAdjust="spacing" fill="#222" stroke="#222" stroke-width="0.25">20</text>
<text transform="translate(416.58,723.80) scale(0.9,1)" font-size="10.7" text-anchor="middle" textLength="11.56" lengthAdjust="spacing" fill="#222" stroke="#222" stroke-width="0.25">30</text>
<text transform="translate(444.82,723.80) scale(0.9,1)" font-size="10.7" text-anchor="middle" textLength="11.56" lengthAdjust="spacing" fill="#222" stroke="#222" stroke-width="0.25">60</text>
<text transform="translate(473.06,723.80) scale(0.9,1)" font-size="10.7" text-anchor="middle" textLength="11.56" lengthAdjust="spacing" fill="#222" stroke="#222" stroke-width="0.25">30</text>
<text transform="translate(501.30,723.80) scale(0.9,1)" font-size="10.7" text-anchor="middle" textLength="11.56" lengthAdjust="spacing" fill="#222" stroke="#222" stroke-width="0.25">60</text>
<line x1="247.5" y1="730.1" x2="332.2" y2="730.1" stroke="#444" stroke-width="1"/>
<line x1="360.1" y1="730.1" x2="444.7" y2="730.1" stroke="#444" stroke-width="1"/>
<line x1="473.4" y1="730.1" x2="501.3" y2="730.1" stroke="#444" stroke-width="1"/>
<text transform="translate(272.30,748.00) scale(0.9,1)" font-size="10.7"  textLength="40.22" lengthAdjust="spacing" fill="#222" stroke="#222" stroke-width="0.25">PEI-Max</text>
<text transform="translate(377.60,748.00) scale(0.9,1)" font-size="10.7"  textLength="55.11" lengthAdjust="spacing" fill="#222" stroke="#222" stroke-width="0.25">TransFectin</text>
<text transform="translate(455.40,748.00) scale(0.9,1)" font-size="10.7"  textLength="70.11" lengthAdjust="spacing" fill="#222" stroke="#222" stroke-width="0.25">Lipofectamine</text>
<text transform="translate(475.50,761.60) scale(0.9,1)" font-size="10.7"  textLength="25.33" lengthAdjust="spacing" fill="#222" stroke="#222" stroke-width="0.25">3000</text>
</svg></body></html>
